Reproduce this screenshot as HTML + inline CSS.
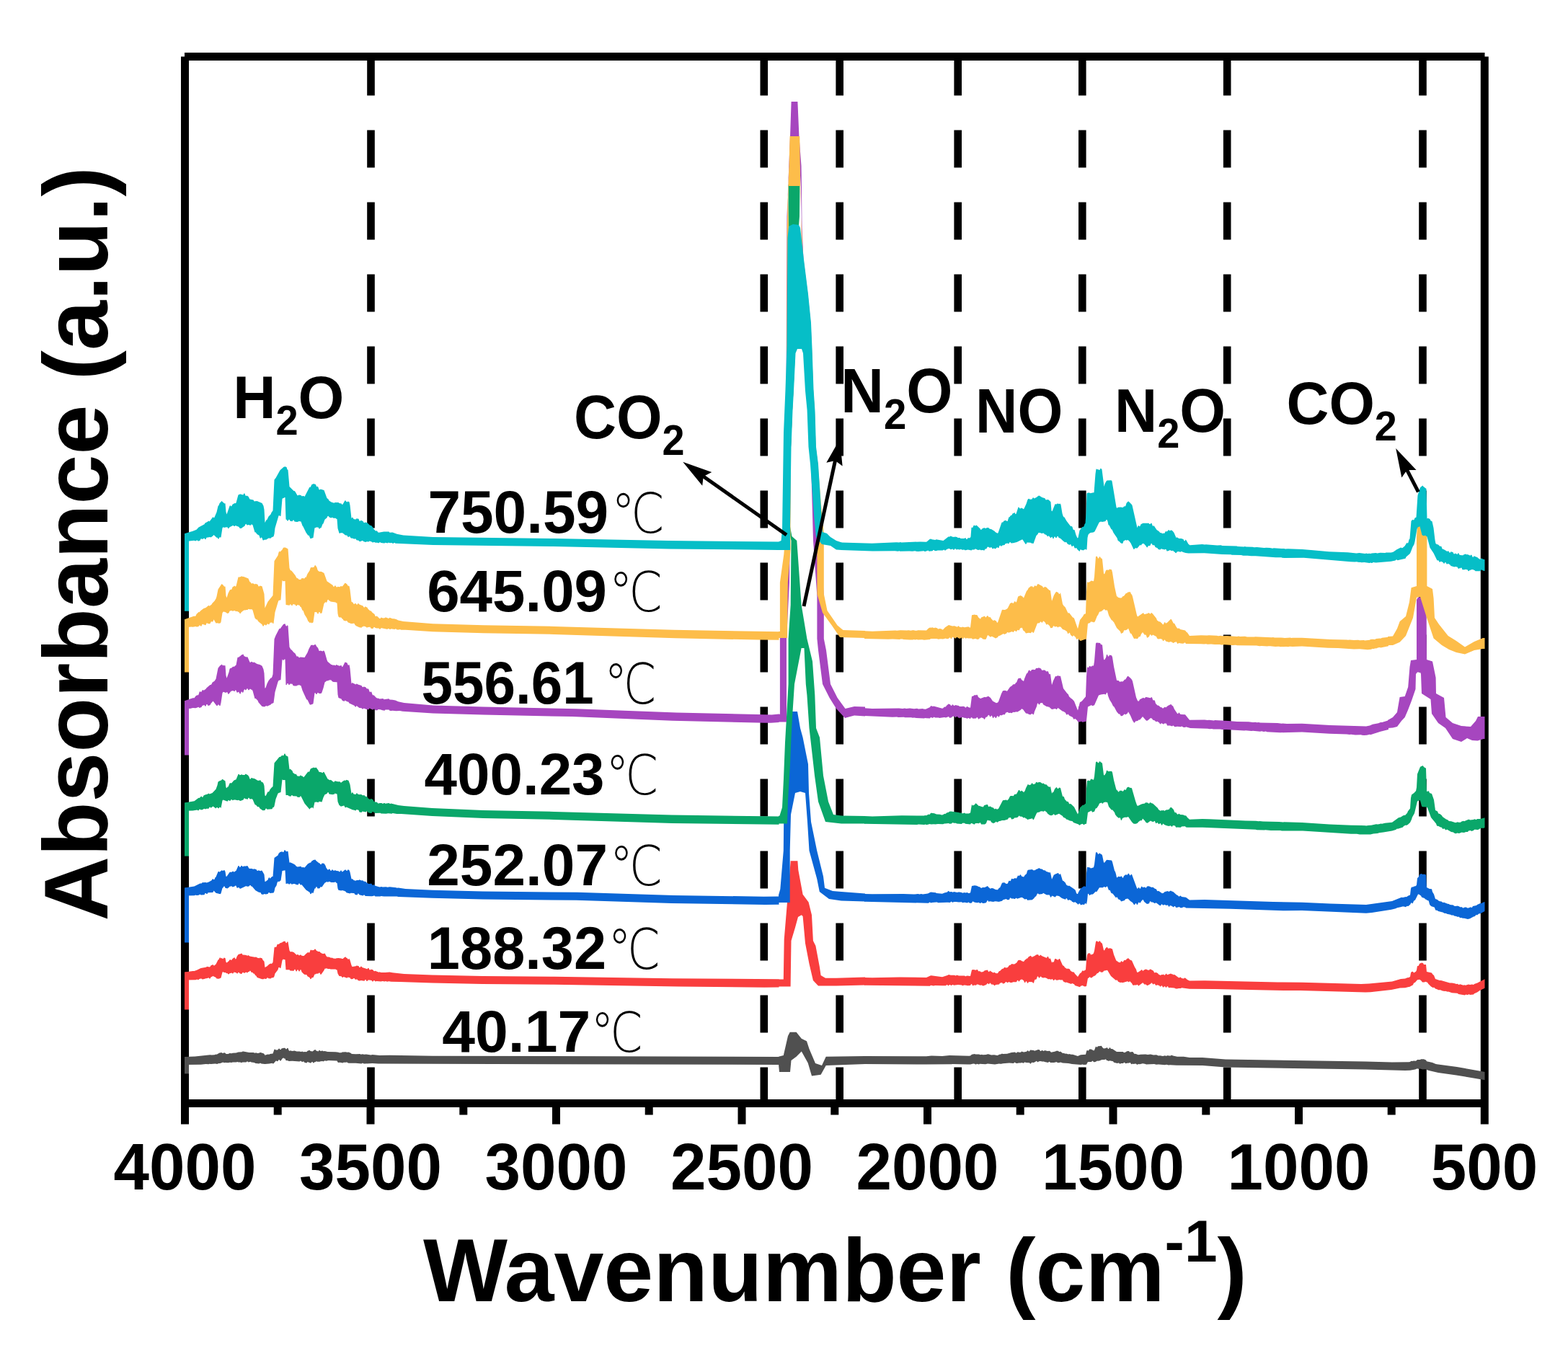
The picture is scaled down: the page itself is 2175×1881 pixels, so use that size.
<!DOCTYPE html>
<html><head><meta charset="utf-8"><title>FTIR spectra</title><style>html,body{margin:0;padding:0;background:#fff;overflow:hidden}svg{display:block}</style></head><body>
<svg width="2175" height="1881" viewBox="0 0 2175 1881">
<rect width="100%" height="100%" fill="#fff"/>
<defs><clipPath id="pa"><rect x="256" y="78.5" width="1803.5" height="1452"/></clipPath></defs>
<line x1="514.5" y1="80.5" x2="514.5" y2="1530" stroke="#000" stroke-width="10.6" stroke-dasharray="52 48"/>
<line x1="1059.8" y1="80.5" x2="1059.8" y2="1530" stroke="#000" stroke-width="10.6" stroke-dasharray="52 48"/>
<line x1="1164.7" y1="80.5" x2="1164.7" y2="1530" stroke="#000" stroke-width="10.6" stroke-dasharray="52 48"/>
<line x1="1328.7" y1="80.5" x2="1328.7" y2="1530" stroke="#000" stroke-width="10.6" stroke-dasharray="52 48"/>
<line x1="1501.3" y1="80.5" x2="1501.3" y2="1530" stroke="#000" stroke-width="10.6" stroke-dasharray="52 48"/>
<line x1="1702.2" y1="80.5" x2="1702.2" y2="1530" stroke="#000" stroke-width="10.6" stroke-dasharray="52 48"/>
<line x1="1973.5" y1="80.5" x2="1973.5" y2="1530" stroke="#000" stroke-width="10.6" stroke-dasharray="52 48"/>
<line x1="256" y1="78.5" x2="2059.5" y2="78.5" stroke="#000" stroke-width="11"/>
<line x1="256.5" y1="78.5" x2="256.5" y2="1559.5" stroke="#000" stroke-width="11"/>
<line x1="2059.3" y1="78.5" x2="2059.3" y2="1559.5" stroke="#000" stroke-width="11"/>
<line x1="256" y1="1530.5" x2="2059.5" y2="1530.5" stroke="#000" stroke-width="11"/>
<line x1="514.0" y1="1530" x2="514.0" y2="1559.5" stroke="#000" stroke-width="11"/>
<line x1="771.5" y1="1530" x2="771.5" y2="1559.5" stroke="#000" stroke-width="11"/>
<line x1="1029.0" y1="1530" x2="1029.0" y2="1559.5" stroke="#000" stroke-width="11"/>
<line x1="1286.5" y1="1530" x2="1286.5" y2="1559.5" stroke="#000" stroke-width="11"/>
<line x1="1544.0" y1="1530" x2="1544.0" y2="1559.5" stroke="#000" stroke-width="11"/>
<line x1="1801.5" y1="1530" x2="1801.5" y2="1559.5" stroke="#000" stroke-width="11"/>
<line x1="385.2" y1="1530" x2="385.2" y2="1546.5" stroke="#000" stroke-width="11"/>
<line x1="642.8" y1="1530" x2="642.8" y2="1546.5" stroke="#000" stroke-width="11"/>
<line x1="900.2" y1="1530" x2="900.2" y2="1546.5" stroke="#000" stroke-width="11"/>
<line x1="1157.8" y1="1530" x2="1157.8" y2="1546.5" stroke="#000" stroke-width="11"/>
<line x1="1415.2" y1="1530" x2="1415.2" y2="1546.5" stroke="#000" stroke-width="11"/>
<line x1="1672.8" y1="1530" x2="1672.8" y2="1546.5" stroke="#000" stroke-width="11"/>
<line x1="1930.2" y1="1530" x2="1930.2" y2="1546.5" stroke="#000" stroke-width="11"/>
<g clip-path="url(#pa)">
<polygon points="256.5,1466.0 270.5,1465.5 291.5,1463.3 293.5,1463.6 297.5,1463.2 299.5,1462.4 300.5,1462.7 304.5,1460.6 307.5,1460.0 308.5,1460.9 311.5,1460.3 312.5,1460.7 313.5,1462.0 316.5,1461.9 318.5,1461.1 321.5,1461.2 322.5,1460.7 327.5,1460.5 330.5,1459.5 335.5,1459.2 336.5,1458.5 337.5,1458.4 345.5,1459.9 351.5,1459.9 353.5,1460.7 355.5,1460.3 356.5,1461.0 359.5,1460.7 360.5,1459.9 361.5,1460.0 365.5,1461.2 366.5,1461.9 367.5,1463.7 371.5,1462.6 373.5,1462.8 374.5,1462.1 378.5,1461.6 380.5,1455.7 381.5,1455.5 382.5,1456.6 384.5,1456.4 385.5,1456.2 386.5,1454.7 387.5,1454.5 388.5,1456.0 389.5,1455.9 390.5,1454.4 393.5,1453.7 395.5,1453.7 396.5,1455.2 397.5,1455.2 398.5,1453.8 399.5,1453.9 400.5,1456.7 401.5,1458.0 402.5,1457.3 405.5,1458.1 408.5,1457.6 411.5,1458.6 415.5,1458.4 417.5,1458.9 419.5,1458.5 420.5,1459.2 423.5,1458.9 424.5,1459.3 425.5,1459.1 426.5,1457.8 429.5,1456.8 430.5,1458.1 433.5,1458.5 436.5,1456.2 437.5,1456.1 438.5,1457.4 441.5,1458.4 442.5,1457.1 443.5,1457.1 444.5,1458.1 447.5,1457.5 448.5,1458.3 450.5,1458.1 454.5,1459.1 465.5,1459.3 469.5,1459.7 470.5,1460.3 473.5,1460.3 474.5,1459.4 479.5,1459.3 481.5,1459.8 483.5,1459.4 486.5,1460.7 487.5,1461.7 488.5,1461.9 493.5,1462.3 499.5,1462.0 500.5,1462.7 502.5,1462.3 505.5,1462.8 507.5,1462.5 514.5,1463.4 516.5,1463.1 526.5,1464.1 540.5,1463.8 600.5,1464.7 1080.5,1465.9 1080.5,1477.0 524.5,1475.5 516.5,1475.1 506.5,1475.5 504.5,1475.4 503.5,1474.8 502.5,1474.8 501.5,1475.4 493.5,1474.7 484.5,1474.7 482.5,1474.5 481.5,1473.5 480.5,1473.4 479.5,1473.8 476.5,1473.7 475.5,1474.4 471.5,1473.8 469.5,1474.0 468.5,1473.5 467.5,1471.5 455.5,1471.0 452.5,1471.7 450.5,1471.2 448.5,1472.6 447.5,1471.9 444.5,1472.2 443.5,1472.8 440.5,1472.8 438.5,1472.2 437.5,1473.2 436.5,1473.2 434.5,1474.7 433.5,1473.0 432.5,1473.1 431.5,1474.4 430.5,1474.4 426.5,1473.0 425.5,1474.5 422.5,1473.9 421.5,1472.6 420.5,1472.4 419.5,1473.0 418.5,1472.7 417.5,1471.7 416.5,1471.7 415.5,1472.6 405.5,1471.8 400.5,1472.0 399.5,1471.2 396.5,1470.9 395.5,1468.4 394.5,1468.4 393.5,1467.6 392.5,1467.7 391.5,1468.4 389.5,1471.4 388.5,1471.4 387.5,1470.1 386.5,1470.2 385.5,1471.9 384.5,1472.3 383.5,1471.4 382.5,1471.8 379.5,1475.2 378.5,1475.4 377.5,1474.8 373.5,1475.6 367.5,1475.9 362.5,1475.6 361.5,1474.8 360.5,1474.7 359.5,1475.5 354.5,1475.0 352.5,1474.0 348.5,1473.6 347.5,1472.8 344.5,1473.6 343.5,1472.6 342.5,1472.6 341.5,1473.6 336.5,1473.5 334.5,1474.2 333.5,1473.4 330.5,1473.5 329.5,1473.0 327.5,1473.6 322.5,1473.6 321.5,1474.1 318.5,1473.7 316.5,1474.3 312.5,1473.9 310.5,1474.2 309.5,1473.6 305.5,1475.1 302.5,1475.3 301.5,1476.0 298.5,1475.4 292.5,1476.1 290.5,1475.8 289.5,1476.3 285.5,1476.1 278.5,1476.7 256.5,1477.0" fill="#505050"/>
<polygon points="1199.0,1465.1 1285.0,1465.2 1292.0,1464.5 1307.0,1465.0 1317.0,1464.1 1344.0,1464.8 1346.0,1464.6 1348.0,1462.8 1352.0,1461.9 1353.0,1462.4 1358.0,1462.5 1360.0,1463.2 1362.0,1462.7 1363.0,1463.2 1368.0,1463.1 1369.0,1462.4 1371.0,1462.3 1375.0,1463.4 1379.0,1463.2 1383.0,1464.0 1384.0,1463.9 1386.0,1462.7 1388.0,1462.5 1390.0,1461.4 1391.0,1462.0 1397.0,1461.7 1403.0,1460.1 1408.0,1459.6 1409.0,1460.6 1410.0,1460.6 1412.0,1459.0 1413.0,1459.7 1416.0,1459.8 1417.0,1458.6 1420.0,1459.4 1424.0,1458.7 1425.0,1457.6 1426.0,1457.3 1427.0,1458.4 1428.0,1458.3 1429.0,1456.6 1434.0,1457.1 1435.0,1457.8 1440.0,1456.0 1442.0,1456.2 1443.0,1458.0 1444.0,1458.0 1445.0,1456.9 1446.0,1457.0 1447.0,1457.8 1448.0,1457.9 1449.0,1456.9 1453.0,1458.0 1456.0,1457.8 1458.0,1459.7 1464.0,1458.4 1465.0,1457.7 1468.0,1457.8 1469.0,1459.1 1470.0,1459.1 1471.0,1458.5 1474.0,1461.0 1475.0,1460.8 1478.0,1461.7 1479.0,1461.5 1482.0,1462.5 1483.0,1462.0 1486.0,1462.8 1488.0,1462.8 1495.0,1465.1 1499.0,1463.2 1506.0,1462.8 1507.0,1458.5 1508.0,1456.5 1509.0,1457.6 1510.0,1457.6 1511.0,1455.6 1514.0,1455.5 1515.0,1456.5 1516.0,1456.5 1517.0,1457.4 1518.0,1456.7 1520.0,1451.4 1521.0,1452.4 1522.0,1452.4 1523.0,1451.3 1528.0,1450.7 1529.0,1452.8 1531.0,1454.5 1534.0,1454.1 1535.0,1453.2 1536.0,1453.2 1537.0,1455.0 1538.0,1455.1 1539.0,1453.3 1540.0,1453.3 1541.0,1454.9 1543.0,1455.1 1549.0,1459.0 1558.0,1459.1 1559.0,1460.3 1562.0,1459.3 1563.0,1458.3 1566.0,1458.1 1567.0,1459.5 1571.0,1459.1 1572.0,1459.7 1573.0,1461.5 1574.0,1462.0 1575.0,1461.7 1579.0,1463.2 1582.0,1462.7 1589.0,1462.5 1592.0,1463.1 1596.0,1462.4 1600.0,1463.4 1604.0,1463.3 1607.0,1464.4 1609.0,1464.2 1613.0,1464.9 1616.0,1464.2 1617.0,1464.8 1618.0,1464.7 1620.0,1463.9 1621.0,1464.5 1624.0,1464.4 1625.0,1463.5 1627.0,1464.5 1633.0,1465.7 1642.0,1465.7 1650.0,1467.0 1668.0,1466.9 1700.0,1469.4 1894.0,1472.5 1931.0,1473.6 1954.0,1473.3 1956.0,1473.1 1957.0,1472.0 1958.0,1471.7 1959.0,1472.1 1961.0,1471.6 1964.0,1471.7 1966.0,1470.1 1970.0,1469.9 1971.0,1469.3 1975.0,1469.3 1978.0,1470.4 1979.0,1472.3 1987.0,1473.9 1991.0,1475.8 1993.0,1476.2 2021.0,1480.0 2062.0,1487.4 2062.0,1498.7 2020.0,1491.4 1995.0,1488.1 1982.0,1485.1 1979.0,1484.1 1978.0,1483.3 1973.0,1483.5 1970.0,1482.6 1967.0,1482.8 1966.0,1482.3 1963.0,1483.5 1956.0,1484.7 1949.0,1484.9 1894.0,1483.6 1700.0,1480.6 1668.0,1478.1 1632.0,1477.8 1623.0,1477.3 1621.0,1477.6 1618.0,1476.8 1616.0,1477.3 1607.0,1476.6 1604.0,1476.8 1601.0,1476.0 1590.0,1476.5 1588.0,1475.7 1585.0,1475.3 1581.0,1476.2 1579.0,1476.0 1578.0,1476.8 1577.0,1476.8 1576.0,1475.8 1575.0,1475.6 1572.0,1475.9 1571.0,1475.6 1570.0,1476.3 1569.0,1476.1 1568.0,1474.3 1567.0,1474.1 1566.0,1474.7 1565.0,1474.4 1561.0,1475.2 1560.0,1473.8 1559.0,1473.9 1558.0,1474.9 1555.0,1475.1 1554.0,1475.7 1553.0,1475.5 1552.0,1474.6 1551.0,1474.4 1550.0,1474.9 1545.0,1473.7 1544.0,1472.3 1543.0,1471.9 1539.0,1471.3 1538.0,1472.0 1536.0,1470.9 1535.0,1470.9 1534.0,1469.3 1532.0,1469.9 1529.0,1469.9 1527.0,1470.4 1526.0,1471.2 1523.0,1471.8 1522.0,1471.5 1520.0,1472.7 1518.0,1473.2 1517.0,1473.3 1516.0,1471.7 1515.0,1471.7 1514.0,1472.9 1509.0,1473.1 1507.0,1476.8 1503.0,1477.0 1502.0,1476.6 1499.0,1477.1 1487.0,1476.1 1482.0,1475.0 1474.0,1474.5 1471.0,1473.6 1470.0,1474.1 1467.0,1474.3 1466.0,1473.3 1465.0,1473.3 1462.0,1474.0 1458.0,1474.1 1457.0,1474.0 1456.0,1472.9 1455.0,1472.7 1454.0,1474.0 1449.0,1473.1 1448.0,1472.6 1445.0,1472.5 1444.0,1472.1 1441.0,1472.3 1440.0,1473.2 1439.0,1473.2 1438.0,1471.8 1434.0,1474.0 1431.0,1473.8 1430.0,1475.4 1429.0,1475.4 1428.0,1474.3 1423.0,1474.1 1422.0,1473.6 1421.0,1473.6 1420.0,1474.7 1417.0,1473.9 1416.0,1474.6 1413.0,1474.5 1411.0,1475.0 1409.0,1474.8 1408.0,1473.8 1407.0,1473.8 1406.0,1475.1 1400.0,1474.5 1391.0,1475.2 1389.0,1475.7 1387.0,1475.8 1386.0,1475.4 1380.0,1476.4 1370.0,1475.5 1367.0,1476.3 1359.0,1475.8 1358.0,1476.5 1355.0,1475.8 1354.0,1476.5 1353.0,1476.5 1352.0,1475.7 1350.0,1475.6 1346.0,1476.4 1342.0,1476.4 1321.0,1476.0 1320.0,1476.3 1284.0,1476.5 1199.0,1476.1" fill="#505050"/>
<polygon points="1080.0,1465.7 1086.8,1464.0 1093.0,1437.0 1095.7,1431.8 1104.6,1431.8 1111.8,1440.7 1119.0,1444.3 1122.5,1455.0 1131.0,1475.0 1140.0,1478.0 1145.7,1465.7 1200.0,1465.0 1200.0,1476.0 1145.7,1478.0 1138.6,1490.7 1126.0,1492.5 1120.7,1474.6 1111.8,1458.6 1104.6,1465.7 1097.5,1471.0 1096.0,1487.0 1081.0,1487.0 1080.0,1476.4" fill="#505050"/>
<rect x="251" y="1466.0" width="11" height="23.4" fill="#505050"/>
<polygon points="256.5,1348.5 267.5,1346.9 269.5,1347.0 273.5,1345.6 278.5,1342.9 285.5,1341.7 287.5,1340.8 290.5,1341.4 291.5,1341.0 292.5,1339.2 295.5,1338.0 296.5,1339.4 297.5,1339.3 299.5,1337.5 302.5,1331.6 303.5,1331.1 304.5,1328.8 305.5,1328.3 306.5,1329.6 307.5,1329.0 309.5,1330.3 310.5,1328.4 312.5,1328.9 313.5,1334.5 314.5,1335.5 317.5,1333.0 318.5,1331.5 319.5,1331.0 320.5,1331.9 321.5,1331.5 322.5,1329.9 324.5,1328.6 325.5,1328.3 326.5,1330.5 327.5,1330.1 328.5,1326.9 330.5,1324.1 335.5,1322.6 336.5,1324.5 340.5,1324.8 343.5,1325.8 344.5,1324.9 346.5,1326.6 353.5,1327.7 355.5,1327.5 356.5,1328.4 359.5,1329.3 360.5,1328.6 363.5,1329.3 364.5,1331.4 366.5,1333.7 367.5,1342.1 370.5,1340.3 373.5,1337.5 375.5,1336.6 376.5,1337.0 377.5,1336.3 378.5,1334.9 380.5,1314.4 381.5,1313.6 382.5,1314.1 383.5,1313.3 384.5,1310.3 385.5,1309.5 386.5,1310.1 388.5,1308.3 391.5,1307.3 392.5,1306.3 395.5,1305.6 396.5,1307.8 397.5,1308.2 398.5,1306.3 399.5,1306.6 401.5,1318.6 402.5,1320.1 403.5,1320.6 404.5,1320.1 407.5,1321.1 411.5,1324.8 412.5,1324.0 413.5,1324.1 414.5,1325.3 415.5,1325.3 416.5,1324.4 417.5,1324.5 418.5,1325.8 421.5,1325.9 424.5,1322.9 427.5,1320.8 428.5,1321.8 429.5,1321.0 430.5,1318.0 431.5,1317.4 432.5,1318.2 434.5,1318.1 435.5,1317.9 436.5,1316.6 437.5,1316.4 438.5,1318.2 439.5,1318.9 441.5,1320.0 443.5,1320.0 444.5,1321.6 445.5,1321.7 446.5,1322.8 449.5,1323.1 450.5,1322.2 452.5,1325.9 453.5,1327.2 454.5,1327.6 456.5,1327.5 458.5,1328.6 459.5,1328.8 460.5,1328.4 462.5,1329.5 465.5,1329.8 466.5,1329.2 469.5,1329.1 473.5,1329.4 474.5,1330.1 475.5,1329.9 478.5,1327.5 479.5,1327.6 480.5,1328.7 481.5,1329.0 482.5,1330.4 483.5,1330.7 484.5,1329.8 485.5,1331.9 487.5,1339.1 488.5,1341.0 493.5,1340.3 494.5,1339.5 497.5,1340.0 498.5,1341.9 499.5,1342.1 500.5,1340.6 501.5,1340.8 502.5,1341.9 509.5,1344.3 510.5,1342.7 511.5,1343.1 512.5,1345.2 513.5,1345.5 514.5,1344.8 516.5,1345.0 517.5,1345.4 518.5,1346.9 519.5,1347.2 520.5,1346.7 525.5,1348.8 526.5,1348.3 528.5,1348.9 534.5,1349.0 540.5,1348.4 544.5,1349.3 560.5,1350.9 599.5,1352.5 669.5,1353.9 768.5,1354.8 932.5,1357.2 1080.5,1358.3 1080.5,1369.5 1060.5,1369.7 940.5,1368.5 768.5,1365.8 669.5,1364.9 599.5,1363.5 554.5,1361.9 542.5,1361.8 539.5,1361.3 536.5,1361.7 535.5,1361.1 533.5,1361.6 530.5,1361.0 528.5,1361.6 522.5,1360.9 520.5,1361.4 519.5,1360.2 518.5,1360.1 517.5,1361.4 516.5,1361.4 515.5,1360.1 512.5,1359.5 510.5,1359.6 509.5,1361.1 508.5,1361.0 507.5,1359.0 506.5,1358.9 505.5,1360.8 500.5,1360.0 499.5,1360.5 498.5,1360.4 496.5,1359.9 495.5,1358.6 492.5,1358.8 491.5,1357.1 490.5,1357.0 489.5,1358.1 487.5,1358.3 486.5,1358.1 485.5,1356.2 483.5,1355.7 482.5,1355.5 481.5,1356.8 476.5,1355.0 475.5,1355.9 474.5,1355.7 473.5,1354.2 470.5,1353.9 468.5,1350.4 467.5,1345.4 466.5,1345.3 465.5,1344.5 458.5,1344.6 457.5,1343.9 454.5,1343.9 453.5,1343.2 450.5,1343.7 449.5,1346.1 445.5,1351.7 444.5,1351.7 443.5,1349.5 442.5,1349.5 441.5,1350.6 438.5,1350.8 437.5,1351.4 436.5,1351.4 434.5,1355.9 432.5,1356.2 431.5,1358.1 430.5,1358.2 429.5,1356.0 426.5,1354.3 425.5,1352.6 424.5,1351.8 423.5,1352.2 421.5,1351.2 419.5,1349.3 418.5,1348.2 417.5,1345.3 416.5,1345.3 415.5,1347.4 414.5,1347.3 413.5,1345.2 412.5,1345.2 411.5,1347.4 410.5,1347.3 409.5,1344.7 408.5,1344.7 407.5,1346.8 402.5,1346.4 401.5,1345.3 396.5,1345.2 395.5,1331.2 393.5,1330.7 392.5,1330.7 391.5,1332.2 389.5,1342.8 388.5,1343.0 387.5,1341.7 386.5,1341.9 385.5,1345.3 381.5,1350.4 380.5,1354.3 379.5,1356.1 376.5,1356.6 375.5,1357.6 372.5,1357.2 371.5,1356.2 370.5,1356.4 369.5,1357.7 368.5,1358.0 366.5,1357.5 365.5,1358.3 363.5,1358.3 357.5,1356.2 356.5,1355.8 355.5,1353.7 354.5,1353.3 352.5,1350.5 351.5,1350.5 350.5,1349.1 348.5,1348.7 347.5,1346.8 346.5,1346.8 345.5,1347.9 344.5,1347.9 343.5,1349.3 342.5,1349.3 341.5,1348.4 338.5,1350.0 337.5,1348.7 336.5,1349.0 335.5,1350.7 334.5,1351.1 332.5,1350.3 331.5,1349.0 330.5,1348.8 329.5,1350.4 328.5,1350.2 327.5,1349.2 324.5,1348.5 323.5,1350.2 322.5,1350.4 321.5,1349.4 318.5,1350.2 317.5,1351.2 316.5,1351.4 315.5,1350.1 314.5,1350.2 312.5,1348.9 310.5,1349.1 309.5,1348.0 308.5,1348.7 306.5,1356.6 303.5,1357.8 300.5,1357.4 299.5,1355.9 295.5,1354.1 292.5,1355.5 291.5,1357.5 290.5,1357.6 289.5,1356.2 287.5,1357.0 284.5,1357.4 283.5,1358.1 280.5,1358.4 279.5,1357.4 278.5,1357.5 276.5,1358.1 275.5,1359.1 274.5,1359.2 273.5,1358.6 271.5,1359.2 256.5,1359.6" fill="#F93E3E"/>
<polygon points="1199.0,1355.9 1210.0,1356.2 1248.0,1355.5 1285.0,1355.9 1291.0,1353.3 1292.0,1353.3 1307.0,1355.3 1314.0,1353.0 1316.0,1352.0 1319.0,1352.8 1324.0,1352.7 1325.0,1353.3 1326.0,1353.4 1327.0,1352.6 1330.0,1353.4 1338.0,1353.5 1339.0,1354.2 1340.0,1354.2 1341.0,1353.4 1346.0,1354.0 1348.0,1345.6 1350.0,1344.9 1354.0,1345.7 1355.0,1344.7 1356.0,1345.2 1357.0,1346.9 1358.0,1347.4 1359.0,1346.9 1361.0,1348.5 1364.0,1347.9 1365.0,1346.8 1367.0,1345.9 1370.0,1345.6 1371.0,1347.8 1372.0,1348.2 1373.0,1346.4 1377.0,1349.0 1378.0,1349.4 1379.0,1348.7 1380.0,1349.0 1381.0,1350.1 1383.0,1350.3 1384.0,1350.1 1386.0,1346.9 1387.0,1347.0 1390.0,1343.9 1392.0,1343.6 1393.0,1341.9 1394.0,1341.8 1395.0,1342.5 1397.0,1342.3 1398.0,1341.8 1400.0,1339.0 1402.0,1338.4 1403.0,1337.3 1404.0,1337.0 1405.0,1337.6 1408.0,1337.2 1409.0,1335.9 1410.0,1335.7 1412.0,1332.4 1413.0,1331.7 1416.0,1332.1 1417.0,1333.0 1420.0,1333.9 1422.0,1331.2 1423.0,1330.9 1424.0,1329.6 1425.0,1329.7 1427.0,1326.9 1428.0,1326.8 1429.0,1325.9 1430.0,1325.8 1431.0,1327.5 1432.0,1327.5 1436.0,1325.6 1437.0,1324.5 1440.0,1324.1 1441.0,1325.7 1442.0,1325.9 1443.0,1324.6 1444.0,1324.9 1445.0,1326.1 1451.0,1328.5 1452.0,1328.7 1453.0,1326.7 1454.0,1327.0 1455.0,1329.6 1456.0,1330.1 1457.0,1329.3 1459.0,1335.4 1460.0,1334.1 1461.0,1335.0 1462.0,1333.8 1463.0,1330.6 1464.0,1329.7 1467.0,1331.5 1468.0,1331.6 1469.0,1329.9 1470.0,1330.0 1474.0,1339.0 1476.0,1340.2 1477.0,1341.9 1480.0,1344.1 1481.0,1343.5 1483.0,1344.0 1484.0,1344.6 1485.0,1346.7 1488.0,1348.6 1489.0,1348.3 1490.0,1348.9 1491.0,1350.7 1495.0,1354.9 1498.0,1350.3 1500.0,1348.9 1501.0,1346.8 1502.0,1346.2 1503.0,1347.1 1506.0,1345.2 1507.0,1332.0 1508.0,1324.9 1509.0,1322.5 1512.0,1322.3 1513.0,1324.4 1516.0,1323.6 1517.0,1322.2 1518.0,1318.8 1520.0,1306.5 1521.0,1305.3 1522.0,1305.4 1523.0,1306.6 1524.0,1306.6 1525.0,1305.3 1526.0,1305.4 1527.0,1307.6 1528.0,1307.7 1529.0,1309.3 1531.0,1318.0 1532.0,1318.4 1533.0,1315.9 1535.0,1313.9 1536.0,1313.9 1537.0,1315.8 1540.0,1315.2 1543.0,1316.4 1545.0,1324.2 1548.0,1331.7 1549.0,1333.2 1550.0,1333.3 1551.0,1334.5 1554.0,1335.3 1555.0,1333.2 1556.0,1333.3 1557.0,1334.4 1558.0,1334.1 1559.0,1332.3 1560.0,1331.7 1561.0,1332.1 1562.0,1331.5 1563.0,1330.0 1565.0,1329.3 1566.0,1329.7 1567.0,1331.2 1570.0,1332.4 1574.0,1341.4 1576.0,1344.8 1577.0,1348.2 1578.0,1349.1 1582.0,1346.6 1583.0,1345.4 1584.0,1345.1 1585.0,1346.8 1586.0,1346.5 1587.0,1345.3 1588.0,1345.3 1589.0,1344.4 1590.0,1344.4 1591.0,1345.3 1593.0,1345.7 1594.0,1345.7 1595.0,1344.4 1596.0,1344.5 1600.0,1346.8 1601.0,1349.0 1602.0,1349.6 1603.0,1348.7 1606.0,1350.1 1607.0,1351.6 1610.0,1353.1 1611.0,1351.8 1612.0,1352.2 1614.0,1351.6 1615.0,1352.8 1616.0,1352.6 1617.0,1350.9 1618.0,1350.6 1619.0,1352.3 1624.0,1350.4 1626.0,1351.5 1627.0,1351.6 1628.0,1352.4 1629.0,1351.8 1635.0,1356.2 1636.0,1356.3 1637.0,1355.5 1638.0,1355.7 1639.0,1357.1 1642.0,1357.6 1643.0,1356.4 1644.0,1356.6 1647.0,1359.0 1650.0,1360.6 1671.0,1360.2 1772.0,1362.4 1806.0,1362.7 1888.0,1364.9 1899.0,1364.5 1931.0,1361.6 1943.0,1358.1 1949.0,1357.6 1952.0,1356.3 1954.0,1356.1 1956.0,1355.1 1957.0,1349.6 1958.0,1348.1 1960.0,1347.8 1961.0,1349.5 1964.0,1347.7 1965.0,1345.7 1966.0,1339.8 1967.0,1340.2 1968.0,1339.3 1969.0,1336.7 1972.0,1335.5 1974.0,1336.0 1975.0,1337.9 1978.0,1337.9 1979.0,1347.9 1986.0,1349.5 1987.0,1351.3 1989.0,1353.1 1991.0,1358.0 1997.0,1359.9 1999.0,1359.9 2011.0,1363.6 2014.0,1363.5 2018.0,1364.2 2020.0,1365.0 2022.0,1364.8 2023.0,1365.7 2024.0,1365.9 2025.0,1365.3 2026.0,1365.5 2030.0,1366.7 2031.0,1366.3 2033.0,1366.7 2037.0,1365.5 2039.0,1366.1 2042.0,1365.6 2044.0,1365.9 2045.0,1364.9 2050.0,1363.3 2051.0,1362.4 2060.0,1358.0 2062.0,1356.5 2062.0,1369.0 2059.0,1371.0 2053.0,1373.7 2049.0,1376.4 2045.0,1378.2 2044.0,1379.4 2039.0,1380.1 2038.0,1379.3 2037.0,1379.4 2035.0,1380.2 2034.0,1379.6 2033.0,1379.8 2032.0,1380.6 2023.0,1379.1 2022.0,1378.0 2021.0,1377.8 2014.0,1377.2 2009.0,1375.5 2008.0,1375.7 2005.0,1374.7 2004.0,1375.0 2001.0,1374.5 1998.0,1373.3 1995.0,1373.3 1994.0,1372.4 1991.0,1371.6 1989.0,1369.5 1988.0,1370.2 1985.0,1368.6 1981.0,1364.5 1980.0,1362.7 1977.0,1361.8 1976.0,1362.4 1973.0,1362.5 1971.0,1359.9 1969.0,1358.7 1966.0,1359.3 1963.0,1362.8 1961.0,1363.7 1960.0,1366.3 1955.0,1369.1 1954.0,1368.9 1949.0,1370.2 1942.0,1370.6 1930.0,1373.0 1901.0,1376.2 1894.0,1376.4 1804.0,1373.9 1780.0,1374.1 1685.0,1372.0 1650.0,1371.7 1639.0,1370.3 1638.0,1371.1 1635.0,1371.0 1633.0,1371.6 1631.0,1371.4 1629.0,1370.4 1623.0,1370.0 1621.0,1370.3 1620.0,1368.3 1619.0,1368.2 1618.0,1369.8 1617.0,1369.7 1616.0,1368.3 1615.0,1368.3 1614.0,1369.5 1613.0,1369.4 1612.0,1367.5 1611.0,1367.3 1610.0,1368.5 1609.0,1368.4 1608.0,1367.0 1605.0,1366.2 1604.0,1367.1 1603.0,1366.7 1602.0,1364.9 1601.0,1364.5 1600.0,1365.6 1599.0,1365.3 1598.0,1363.6 1597.0,1363.6 1596.0,1364.7 1592.0,1366.9 1591.0,1367.0 1589.0,1365.3 1588.0,1365.7 1587.0,1365.2 1586.0,1363.8 1585.0,1363.2 1579.0,1367.8 1578.0,1365.7 1576.0,1366.5 1573.0,1366.5 1572.0,1367.0 1571.0,1366.1 1570.0,1363.9 1567.0,1361.1 1566.0,1362.4 1564.0,1361.2 1557.0,1363.3 1556.0,1362.8 1554.0,1362.9 1551.0,1361.7 1550.0,1359.9 1549.0,1359.3 1548.0,1360.1 1541.0,1354.0 1536.0,1345.7 1531.0,1346.8 1530.0,1348.4 1527.0,1348.8 1526.0,1347.6 1525.0,1347.7 1523.0,1350.0 1522.0,1350.0 1519.0,1353.4 1517.0,1354.1 1516.0,1355.2 1515.0,1355.4 1514.0,1356.4 1513.0,1356.6 1512.0,1355.3 1511.0,1355.4 1510.0,1356.7 1509.0,1356.9 1507.0,1368.1 1505.0,1368.5 1503.0,1368.1 1502.0,1367.1 1499.0,1367.8 1498.0,1369.2 1491.0,1366.9 1490.0,1365.3 1487.0,1364.1 1486.0,1364.9 1479.0,1362.6 1478.0,1363.0 1477.0,1362.6 1475.0,1361.6 1474.0,1359.6 1473.0,1359.2 1472.0,1359.5 1469.0,1358.9 1468.0,1359.6 1465.0,1359.7 1464.0,1358.6 1463.0,1358.7 1462.0,1360.0 1461.0,1360.0 1460.0,1358.0 1458.0,1358.7 1455.0,1358.1 1454.0,1358.6 1452.0,1357.1 1449.0,1356.0 1448.0,1356.4 1445.0,1356.1 1444.0,1354.6 1443.0,1354.7 1442.0,1356.5 1441.0,1356.5 1440.0,1354.4 1439.0,1354.5 1438.0,1357.6 1437.0,1359.0 1436.0,1358.4 1435.0,1359.8 1434.0,1363.4 1433.0,1363.8 1432.0,1362.3 1428.0,1362.0 1427.0,1362.0 1426.0,1363.7 1425.0,1363.7 1424.0,1361.3 1423.0,1361.2 1422.0,1363.3 1421.0,1362.7 1420.0,1360.3 1418.0,1358.7 1417.0,1358.5 1415.0,1359.4 1414.0,1361.3 1413.0,1361.6 1412.0,1359.8 1411.0,1360.0 1410.0,1362.3 1405.0,1362.2 1404.0,1362.9 1401.0,1363.1 1400.0,1362.1 1397.0,1363.2 1396.0,1361.9 1395.0,1362.0 1394.0,1363.6 1392.0,1364.5 1391.0,1364.6 1390.0,1363.0 1388.0,1363.4 1387.0,1363.7 1386.0,1365.5 1381.0,1366.1 1380.0,1367.2 1379.0,1367.0 1378.0,1365.7 1375.0,1365.4 1374.0,1363.8 1373.0,1363.6 1372.0,1365.3 1371.0,1365.1 1370.0,1363.8 1368.0,1365.9 1364.0,1367.5 1363.0,1367.5 1362.0,1366.6 1359.0,1366.8 1358.0,1365.9 1356.0,1365.4 1355.0,1365.4 1354.0,1366.8 1351.0,1366.4 1350.0,1367.3 1349.0,1367.3 1348.0,1365.1 1347.0,1365.2 1346.0,1367.1 1342.0,1367.3 1340.0,1366.7 1337.0,1366.6 1336.0,1367.2 1335.0,1367.2 1334.0,1366.5 1329.0,1366.1 1323.0,1366.7 1322.0,1365.9 1321.0,1365.9 1320.0,1366.9 1319.0,1366.9 1318.0,1366.0 1317.0,1366.0 1316.0,1367.2 1315.0,1367.2 1314.0,1366.1 1313.0,1366.3 1312.0,1367.2 1307.0,1367.3 1297.0,1367.0 1295.0,1367.6 1291.0,1366.8 1290.0,1367.8 1289.0,1367.8 1199.0,1366.7" fill="#F93E3E"/>
<polygon points="1080.0,1358.6 1086.8,1358.6 1087.7,1303.0 1092.0,1251.4 1096.6,1196.0 1096.6,1194.3 1106.4,1194.3 1107.3,1206.8 1113.6,1240.7 1121.6,1251.4 1126.0,1269.3 1127.9,1305.0 1131.4,1312.0 1136.8,1340.7 1138.6,1353.0 1145.0,1356.8 1160.0,1356.8 1200.0,1355.5 1200.0,1366.5 1160.0,1367.5 1135.0,1367.5 1127.9,1360.0 1122.5,1337.0 1117.0,1308.6 1113.6,1271.0 1111.8,1269.3 1107.0,1272.0 1102.9,1287.0 1097.5,1305.0 1096.6,1368.4 1080.0,1368.4" fill="#F93E3E"/>
<rect x="251" y="1348.5" width="11" height="52.0" fill="#F93E3E"/>
<polygon points="256.5,1231.5 269.5,1229.6 277.5,1225.5 279.5,1225.5 280.5,1224.2 285.5,1224.0 286.5,1224.4 289.5,1223.6 293.5,1221.2 294.5,1219.6 295.5,1219.2 296.5,1220.3 297.5,1219.8 298.5,1217.2 299.5,1216.5 302.5,1209.3 303.5,1208.7 304.5,1209.7 307.5,1207.3 309.5,1207.9 310.5,1207.0 311.5,1207.3 312.5,1209.3 313.5,1215.7 314.5,1215.8 318.5,1210.1 319.5,1209.5 320.5,1210.0 323.5,1208.5 324.5,1209.8 327.5,1207.7 330.5,1201.0 331.5,1200.9 332.5,1202.9 333.5,1202.8 334.5,1200.9 335.5,1200.8 336.5,1202.3 338.5,1201.5 341.5,1201.6 342.5,1201.1 343.5,1201.3 345.5,1204.8 347.5,1205.1 348.5,1204.8 351.5,1205.8 352.5,1205.3 355.5,1205.9 356.5,1207.7 357.5,1207.9 358.5,1207.3 361.5,1208.3 362.5,1207.6 363.5,1207.8 366.5,1212.9 367.5,1223.0 368.5,1222.8 371.5,1220.4 372.5,1217.9 373.5,1217.1 374.5,1218.7 377.5,1215.7 378.5,1216.0 380.5,1190.1 385.5,1186.4 386.5,1184.0 388.5,1182.0 391.5,1181.2 392.5,1182.3 393.5,1181.8 394.5,1179.3 395.5,1179.3 396.5,1180.8 397.5,1181.3 398.5,1180.7 399.5,1181.1 401.5,1196.7 402.5,1196.2 406.5,1198.1 409.5,1199.8 410.5,1201.2 412.5,1202.5 417.5,1201.8 418.5,1203.3 420.5,1202.9 422.5,1203.4 427.5,1197.7 428.5,1197.8 429.5,1196.8 430.5,1196.8 431.5,1196.0 432.5,1194.2 433.5,1194.0 434.5,1193.0 437.5,1192.4 438.5,1193.9 442.5,1197.2 443.5,1197.4 444.5,1199.1 445.5,1199.3 446.5,1197.5 449.5,1197.7 451.5,1200.8 452.5,1203.7 454.5,1206.4 455.5,1206.6 456.5,1205.4 457.5,1205.7 458.5,1207.8 459.5,1208.0 460.5,1206.3 461.5,1206.6 462.5,1207.7 465.5,1207.2 466.5,1208.0 469.5,1208.2 470.5,1209.2 471.5,1209.3 472.5,1207.5 473.5,1207.6 474.5,1209.4 475.5,1209.1 478.5,1206.6 479.5,1206.6 480.5,1207.8 481.5,1208.1 482.5,1206.3 483.5,1206.5 484.5,1207.3 485.5,1209.8 487.5,1219.2 489.5,1219.5 490.5,1220.9 493.5,1221.8 494.5,1220.9 497.5,1220.9 498.5,1220.2 501.5,1221.6 502.5,1221.2 503.5,1221.4 504.5,1222.6 507.5,1223.1 508.5,1224.6 511.5,1225.9 513.5,1226.1 514.5,1225.6 515.5,1226.1 516.5,1227.6 517.5,1228.0 518.5,1226.9 519.5,1227.4 520.5,1228.7 526.5,1230.4 529.5,1230.0 530.5,1230.5 535.5,1230.2 537.5,1230.7 540.5,1230.2 549.5,1231.2 550.5,1231.8 552.5,1231.6 562.5,1232.9 599.5,1234.8 669.5,1236.6 800.5,1237.7 934.5,1242.0 1059.5,1243.7 1080.5,1243.5 1080.5,1254.7 1061.5,1255.0 931.5,1253.1 799.5,1248.7 669.5,1247.6 599.5,1245.8 552.5,1244.0 550.5,1243.5 532.5,1243.6 528.5,1243.0 527.5,1243.4 520.5,1243.5 519.5,1242.5 518.5,1242.4 517.5,1243.0 515.5,1243.3 507.5,1242.9 506.5,1242.8 505.5,1241.5 504.5,1241.4 503.5,1242.4 498.5,1241.2 497.5,1239.7 496.5,1239.5 495.5,1241.5 492.5,1240.9 491.5,1239.2 490.5,1239.0 486.5,1238.7 485.5,1239.5 480.5,1238.2 479.5,1236.8 477.5,1235.7 474.5,1235.0 473.5,1235.5 469.5,1234.8 468.5,1232.6 467.5,1224.9 466.5,1224.8 465.5,1223.5 464.5,1223.4 463.5,1224.0 459.5,1223.9 456.5,1222.7 455.5,1223.5 454.5,1223.7 453.5,1222.9 450.5,1224.7 446.5,1230.6 444.5,1230.2 443.5,1232.2 440.5,1232.5 439.5,1230.2 438.5,1230.2 437.5,1232.5 436.5,1232.5 434.5,1239.0 433.5,1238.4 432.5,1238.6 431.5,1240.0 430.5,1240.2 429.5,1237.8 424.5,1234.4 418.5,1227.2 416.5,1227.5 415.5,1225.5 414.5,1225.4 413.5,1227.4 410.5,1227.1 409.5,1226.3 407.5,1226.1 404.5,1226.7 403.5,1225.5 402.5,1225.5 401.5,1226.7 400.5,1226.6 399.5,1225.6 396.5,1226.1 395.5,1207.2 391.5,1207.9 389.5,1221.5 388.5,1221.7 387.5,1222.9 385.5,1222.7 384.5,1224.5 383.5,1228.6 381.5,1231.6 380.5,1236.3 379.5,1238.4 374.5,1239.1 373.5,1238.1 372.5,1238.2 371.5,1239.9 368.5,1240.6 366.5,1240.0 365.5,1240.8 363.5,1240.8 362.5,1240.3 361.5,1238.2 360.5,1237.7 359.5,1238.1 354.5,1235.3 349.5,1229.5 348.5,1229.5 347.5,1227.9 346.5,1227.9 345.5,1229.6 342.5,1229.7 341.5,1229.0 333.5,1232.7 332.5,1232.4 331.5,1231.3 330.5,1231.0 329.5,1231.7 328.5,1231.5 327.5,1228.8 326.5,1228.6 325.5,1229.6 322.5,1230.6 321.5,1229.2 318.5,1229.7 317.5,1231.3 316.5,1231.6 315.5,1232.6 312.5,1231.7 311.5,1229.6 310.5,1229.4 309.5,1231.3 308.5,1232.1 306.5,1239.3 305.5,1240.2 299.5,1238.7 296.5,1235.6 295.5,1237.7 294.5,1238.1 288.5,1238.3 287.5,1239.9 286.5,1240.0 285.5,1238.9 284.5,1239.1 283.5,1241.2 278.5,1241.4 277.5,1240.6 275.5,1241.7 273.5,1242.1 272.5,1242.1 271.5,1241.4 269.5,1242.2 256.5,1242.6" fill="#0B66D6"/>
<polygon points="1199.0,1240.0 1210.0,1240.3 1253.0,1239.9 1268.0,1240.4 1274.0,1240.0 1275.0,1240.4 1278.0,1240.1 1280.0,1240.5 1287.0,1239.6 1291.0,1237.4 1298.0,1238.2 1299.0,1238.9 1307.0,1239.8 1310.0,1238.5 1314.0,1237.6 1315.0,1236.2 1316.0,1235.8 1317.0,1237.2 1320.0,1237.0 1321.0,1237.6 1322.0,1237.7 1323.0,1237.1 1328.0,1238.0 1329.0,1237.4 1331.0,1237.4 1334.0,1238.0 1335.0,1238.7 1338.0,1238.0 1339.0,1238.4 1342.0,1238.1 1343.0,1238.9 1344.0,1239.0 1346.0,1238.5 1348.0,1229.1 1352.0,1228.2 1355.0,1228.8 1358.0,1230.3 1359.0,1230.3 1361.0,1232.1 1363.0,1231.1 1366.0,1230.9 1370.0,1229.1 1371.0,1230.6 1374.0,1232.9 1375.0,1231.7 1376.0,1232.2 1377.0,1231.9 1381.0,1234.0 1383.0,1234.3 1384.0,1234.2 1386.0,1231.5 1387.0,1231.5 1390.0,1224.8 1392.0,1224.3 1394.0,1224.6 1395.0,1225.8 1397.0,1226.0 1398.0,1225.3 1399.0,1222.5 1400.0,1221.4 1401.0,1222.2 1402.0,1221.7 1403.0,1219.0 1404.0,1218.7 1405.0,1219.5 1408.0,1217.9 1409.0,1218.6 1410.0,1218.4 1412.0,1214.6 1414.0,1214.9 1415.0,1213.3 1416.0,1213.4 1417.0,1215.4 1420.0,1216.6 1422.0,1213.6 1423.0,1213.1 1424.0,1211.7 1425.0,1208.1 1426.0,1206.7 1432.0,1206.1 1433.0,1207.3 1435.0,1207.3 1436.0,1207.1 1437.0,1205.9 1440.0,1205.0 1441.0,1204.0 1444.0,1205.6 1445.0,1205.4 1446.0,1205.8 1447.0,1207.0 1450.0,1207.4 1451.0,1208.8 1456.0,1210.5 1457.0,1210.1 1459.0,1219.8 1462.0,1213.2 1463.0,1213.2 1465.0,1211.8 1466.0,1211.9 1467.0,1210.9 1468.0,1211.1 1469.0,1212.8 1470.0,1212.9 1471.0,1211.7 1474.0,1221.7 1475.0,1221.7 1478.0,1224.7 1479.0,1227.2 1480.0,1228.1 1482.0,1229.0 1483.0,1228.5 1491.0,1234.1 1492.0,1235.6 1493.0,1238.8 1494.0,1240.0 1495.0,1240.1 1496.0,1237.4 1499.0,1232.5 1504.0,1229.1 1505.0,1230.1 1506.0,1229.4 1507.0,1211.1 1508.0,1202.8 1512.0,1203.4 1513.0,1204.5 1517.0,1203.2 1518.0,1199.2 1520.0,1182.2 1522.0,1182.4 1523.0,1184.7 1524.0,1184.8 1525.0,1183.6 1526.0,1183.7 1527.0,1185.0 1528.0,1185.1 1529.0,1186.4 1531.0,1196.3 1532.0,1196.8 1535.0,1192.8 1542.0,1193.4 1543.0,1195.7 1546.0,1207.7 1547.0,1209.2 1548.0,1212.4 1549.0,1217.2 1550.0,1217.3 1551.0,1215.7 1554.0,1216.3 1555.0,1215.4 1556.0,1215.5 1557.0,1217.8 1558.0,1217.5 1559.0,1214.9 1562.0,1213.1 1563.0,1213.9 1564.0,1213.2 1565.0,1211.6 1566.0,1212.0 1567.0,1213.9 1568.0,1214.4 1569.0,1212.7 1570.0,1213.1 1577.0,1232.1 1578.0,1233.1 1579.0,1231.2 1580.0,1230.9 1581.0,1232.7 1582.0,1232.4 1583.0,1229.9 1584.0,1229.6 1585.0,1231.1 1588.0,1230.4 1589.0,1231.4 1590.0,1231.4 1591.0,1229.4 1594.0,1229.2 1595.0,1230.1 1598.0,1231.0 1599.0,1230.6 1602.0,1232.8 1604.0,1233.6 1605.0,1235.7 1606.0,1236.2 1607.0,1235.7 1612.0,1239.2 1614.0,1238.7 1615.0,1237.4 1616.0,1237.1 1620.0,1235.9 1621.0,1236.9 1624.0,1235.4 1626.0,1236.8 1627.0,1236.7 1632.0,1241.3 1634.0,1242.3 1635.0,1243.4 1636.0,1243.6 1637.0,1242.6 1638.0,1242.8 1639.0,1244.0 1645.0,1244.7 1650.0,1248.5 1671.0,1248.1 1766.0,1251.1 1806.0,1251.8 1845.0,1253.6 1895.0,1255.0 1931.0,1249.9 1944.0,1244.7 1946.0,1245.0 1950.0,1243.9 1951.0,1244.2 1953.0,1242.7 1956.0,1241.6 1957.0,1232.7 1958.0,1230.5 1960.0,1230.6 1961.0,1229.7 1964.0,1229.0 1965.0,1227.6 1966.0,1218.3 1968.0,1216.1 1969.0,1213.4 1970.0,1212.4 1972.0,1212.0 1973.0,1212.8 1974.0,1212.9 1975.0,1212.4 1978.0,1213.6 1979.0,1230.9 1983.0,1232.9 1986.0,1233.2 1987.0,1237.2 1989.0,1240.6 1991.0,1247.1 1994.0,1248.1 1995.0,1249.3 1998.0,1250.4 1999.0,1250.2 2001.0,1251.7 2002.0,1252.1 2003.0,1251.7 2008.0,1253.7 2010.0,1254.1 2011.0,1254.9 2016.0,1255.5 2017.0,1256.7 2020.0,1257.1 2021.0,1256.6 2024.0,1257.3 2025.0,1258.2 2028.0,1258.2 2029.0,1259.4 2030.0,1259.6 2031.0,1258.8 2033.0,1258.6 2034.0,1258.6 2035.0,1259.5 2037.0,1259.5 2040.0,1258.3 2041.0,1259.1 2042.0,1258.7 2043.0,1257.1 2048.0,1256.1 2049.0,1255.1 2054.0,1252.8 2055.0,1253.2 2057.0,1251.7 2059.0,1251.3 2062.0,1249.7 2062.0,1262.8 2053.0,1267.4 2052.0,1267.2 2051.0,1267.8 2049.0,1269.5 2048.0,1269.0 2047.0,1269.5 2046.0,1270.9 2044.0,1271.4 2039.0,1274.3 2036.0,1275.0 2031.0,1273.7 2029.0,1273.8 2027.0,1272.9 2026.0,1273.2 2025.0,1272.9 2024.0,1271.9 2023.0,1271.6 2022.0,1272.0 2020.0,1271.0 2017.0,1270.4 2016.0,1269.6 2015.0,1269.4 2014.0,1269.8 2012.0,1268.7 2007.0,1267.8 2006.0,1266.9 2003.0,1266.7 2002.0,1265.8 1995.0,1263.9 1993.0,1262.5 1992.0,1263.0 1991.0,1262.1 1990.0,1259.2 1989.0,1257.9 1988.0,1258.3 1987.0,1257.5 1986.0,1257.6 1984.0,1255.9 1983.0,1254.6 1982.0,1250.5 1981.0,1248.8 1980.0,1249.2 1978.0,1247.6 1977.0,1247.4 1976.0,1245.9 1973.0,1245.1 1972.0,1244.5 1971.0,1242.5 1968.0,1240.5 1967.0,1240.6 1963.0,1248.4 1961.0,1249.7 1960.0,1252.6 1959.0,1253.5 1958.0,1252.0 1957.0,1252.9 1956.0,1255.0 1955.0,1255.4 1954.0,1256.8 1953.0,1257.1 1952.0,1256.8 1950.0,1258.1 1949.0,1258.2 1948.0,1257.5 1945.0,1257.5 1944.0,1258.1 1938.0,1259.3 1936.0,1260.2 1930.0,1261.7 1903.0,1265.9 1895.0,1266.7 1806.0,1263.1 1782.0,1263.3 1707.0,1260.8 1645.0,1259.5 1644.0,1258.6 1641.0,1258.2 1640.0,1259.2 1637.0,1259.2 1636.0,1257.9 1632.0,1258.9 1631.0,1258.7 1630.0,1257.1 1629.0,1257.0 1628.0,1258.3 1627.0,1258.2 1626.0,1256.9 1623.0,1255.9 1622.0,1257.7 1621.0,1257.5 1620.0,1255.5 1619.0,1255.4 1618.0,1256.1 1615.0,1254.8 1614.0,1255.7 1613.0,1255.6 1612.0,1254.5 1611.0,1254.3 1610.0,1256.3 1609.0,1256.2 1604.0,1252.6 1603.0,1252.2 1602.0,1253.2 1599.0,1251.4 1597.0,1251.4 1596.0,1250.2 1595.0,1250.6 1594.0,1253.2 1591.0,1254.0 1587.0,1250.7 1586.0,1248.6 1585.0,1248.0 1583.0,1250.2 1582.0,1252.1 1581.0,1252.8 1580.0,1251.6 1579.0,1252.3 1578.0,1254.8 1577.0,1254.9 1576.0,1253.1 1575.0,1253.2 1574.0,1255.0 1573.0,1255.1 1571.0,1251.9 1568.0,1250.1 1565.0,1247.0 1564.0,1246.6 1561.0,1247.3 1560.0,1248.9 1555.0,1250.4 1554.0,1248.5 1551.0,1247.2 1550.0,1245.0 1549.0,1244.3 1548.0,1245.4 1544.0,1240.2 1543.0,1239.2 1542.0,1239.3 1541.0,1238.3 1540.0,1235.5 1539.0,1234.5 1538.0,1235.0 1536.0,1229.6 1535.0,1229.7 1534.0,1230.8 1533.0,1230.9 1532.0,1230.1 1531.0,1230.2 1530.0,1231.3 1525.0,1231.2 1521.0,1237.4 1520.0,1236.5 1516.0,1240.5 1513.0,1240.7 1512.0,1241.8 1511.0,1242.1 1510.0,1239.7 1509.0,1239.9 1508.0,1249.7 1507.0,1254.6 1506.0,1253.1 1505.0,1253.2 1504.0,1254.9 1503.0,1255.1 1502.0,1254.6 1499.0,1255.6 1498.0,1253.4 1497.0,1253.3 1496.0,1254.6 1495.0,1254.5 1494.0,1253.2 1491.0,1251.1 1490.0,1252.1 1487.0,1250.8 1486.0,1249.3 1484.0,1248.5 1483.0,1248.1 1482.0,1249.0 1481.0,1248.6 1480.0,1246.5 1479.0,1246.1 1478.0,1247.7 1473.0,1246.1 1469.0,1243.0 1466.0,1242.6 1465.0,1242.7 1464.0,1244.3 1463.0,1244.4 1462.0,1243.5 1461.0,1243.5 1460.0,1242.8 1459.0,1242.8 1458.0,1244.7 1457.0,1244.5 1456.0,1241.7 1455.0,1241.2 1454.0,1241.6 1453.0,1241.2 1452.0,1241.4 1447.0,1238.7 1446.0,1239.9 1442.0,1240.5 1441.0,1240.5 1440.0,1239.5 1439.0,1239.6 1437.0,1243.5 1436.0,1243.8 1434.0,1246.6 1433.0,1247.0 1432.0,1248.3 1425.0,1248.7 1424.0,1247.1 1423.0,1247.1 1422.0,1247.7 1418.0,1245.0 1417.0,1244.7 1411.0,1246.7 1410.0,1245.7 1409.0,1245.8 1408.0,1247.0 1407.0,1247.1 1406.0,1246.6 1403.0,1246.6 1402.0,1245.5 1401.0,1245.6 1400.0,1247.9 1397.0,1248.3 1396.0,1247.1 1393.0,1247.7 1391.0,1248.6 1390.0,1249.8 1385.0,1251.1 1384.0,1250.5 1383.0,1250.7 1382.0,1250.3 1379.0,1250.5 1378.0,1251.0 1373.0,1250.2 1372.0,1250.7 1371.0,1250.5 1370.0,1248.6 1368.0,1252.0 1367.0,1252.6 1364.0,1253.0 1363.0,1252.9 1362.0,1252.0 1361.0,1251.9 1360.0,1253.0 1359.0,1252.9 1358.0,1251.8 1356.0,1252.3 1353.0,1252.1 1352.0,1251.4 1351.0,1251.4 1350.0,1250.4 1349.0,1250.4 1348.0,1252.4 1346.0,1252.8 1345.0,1252.7 1344.0,1251.7 1343.0,1251.6 1342.0,1252.6 1338.0,1251.8 1335.0,1252.2 1334.0,1251.3 1330.0,1251.5 1326.0,1250.9 1323.0,1250.9 1322.0,1251.8 1321.0,1251.8 1320.0,1250.8 1319.0,1250.7 1318.0,1252.0 1314.0,1251.7 1301.0,1252.3 1300.0,1251.6 1299.0,1251.6 1293.0,1251.9 1291.0,1252.4 1290.0,1251.6 1289.0,1251.7 1288.0,1252.7 1287.0,1252.7 1199.0,1250.8" fill="#0B66D6"/>
<polygon points="1080.0,1241.5 1082.3,1233.6 1086.8,1180.0 1087.5,1110.0 1090.0,1050.0 1095.0,1000.0 1096.0,987.0 1106.0,987.0 1110.0,1010.0 1113.6,1023.0 1121.0,1060.0 1122.0,1100.0 1125.0,1140.0 1133.2,1180.0 1142.0,1215.7 1144.0,1231.8 1155.0,1236.0 1167.0,1237.0 1200.0,1239.5 1200.0,1250.5 1167.0,1249.6 1150.0,1247.0 1136.8,1237.0 1133.2,1219.0 1122.5,1180.0 1120.0,1140.0 1117.0,1100.0 1110.0,1098.0 1103.0,1100.0 1097.0,1130.0 1095.7,1180.0 1095.7,1252.0 1080.0,1252.0" fill="#0B66D6"/>
<rect x="251" y="1231.5" width="11" height="76.0" fill="#0B66D6"/>
<polygon points="256.5,1113.5 269.5,1111.3 275.5,1106.7 276.5,1106.9 277.5,1106.3 278.5,1104.9 279.5,1104.6 280.5,1105.9 281.5,1105.5 282.5,1103.6 284.5,1102.6 287.5,1101.8 289.5,1100.6 290.5,1101.4 294.5,1099.9 299.5,1094.8 301.5,1089.2 302.5,1084.5 305.5,1082.7 306.5,1082.8 308.5,1080.7 312.5,1083.4 313.5,1092.3 314.5,1093.2 315.5,1091.6 316.5,1091.4 318.5,1086.7 319.5,1085.9 320.5,1086.5 321.5,1086.0 324.5,1082.6 327.5,1081.2 330.5,1074.0 331.5,1073.8 332.5,1075.2 335.5,1074.3 336.5,1075.1 339.5,1075.1 340.5,1073.5 343.5,1074.9 344.5,1075.9 345.5,1077.4 346.5,1080.5 347.5,1080.8 348.5,1079.1 353.5,1080.2 357.5,1082.7 359.5,1082.7 360.5,1082.2 361.5,1082.5 362.5,1084.5 364.5,1085.2 365.5,1086.7 366.5,1090.1 367.5,1103.4 368.5,1104.2 371.5,1098.3 372.5,1098.5 373.5,1097.5 374.5,1095.3 376.5,1092.7 378.5,1091.1 380.5,1058.6 387.5,1050.1 388.5,1050.1 389.5,1049.5 391.5,1047.5 392.5,1048.4 393.5,1047.8 394.5,1045.6 395.5,1045.6 396.5,1047.9 399.5,1049.5 401.5,1067.5 402.5,1066.6 403.5,1067.4 405.5,1069.2 406.5,1072.1 409.5,1074.0 410.5,1073.6 412.5,1076.4 415.5,1076.8 416.5,1075.6 417.5,1075.7 418.5,1076.5 419.5,1076.6 420.5,1077.8 421.5,1077.9 427.5,1070.2 428.5,1071.0 429.5,1069.8 430.5,1067.1 431.5,1066.1 435.5,1064.5 436.5,1065.2 438.5,1064.5 441.5,1068.4 442.5,1070.8 445.5,1071.3 447.5,1072.3 448.5,1070.7 449.5,1071.0 454.5,1080.5 457.5,1082.3 458.5,1081.8 459.5,1082.2 462.5,1084.8 463.5,1084.8 464.5,1083.2 468.5,1084.2 471.5,1084.2 472.5,1085.5 473.5,1085.5 474.5,1084.4 477.5,1082.6 479.5,1082.8 480.5,1081.8 483.5,1082.7 485.5,1088.3 487.5,1100.9 488.5,1099.3 489.5,1099.5 490.5,1101.5 493.5,1102.0 494.5,1100.2 495.5,1100.4 496.5,1101.8 499.5,1102.2 500.5,1101.8 503.5,1103.5 504.5,1102.9 505.5,1103.3 506.5,1104.6 509.5,1105.4 510.5,1107.3 511.5,1107.9 513.5,1109.0 514.5,1107.7 517.5,1109.3 518.5,1111.8 521.5,1112.7 522.5,1112.5 524.5,1114.4 525.5,1114.6 526.5,1113.9 529.5,1114.1 530.5,1114.7 531.5,1114.7 532.5,1114.0 533.5,1114.0 534.5,1114.8 539.5,1114.1 540.5,1114.8 541.5,1115.0 542.5,1114.5 552.5,1116.9 560.5,1118.1 599.5,1121.1 669.5,1124.1 768.5,1125.9 931.5,1130.6 1080.5,1132.5 1080.5,1143.8 932.5,1141.9 768.5,1136.9 670.5,1135.1 599.5,1132.1 556.5,1129.1 550.5,1129.1 544.5,1128.1 543.5,1128.7 538.5,1128.3 535.5,1128.7 528.5,1128.5 527.5,1127.7 520.5,1128.1 519.5,1126.9 516.5,1125.9 515.5,1128.0 513.5,1128.0 510.5,1127.0 509.5,1125.4 508.5,1125.3 507.5,1126.4 502.5,1125.6 501.5,1126.9 498.5,1126.6 497.5,1123.8 494.5,1122.9 493.5,1124.5 490.5,1123.4 489.5,1123.5 481.5,1119.9 480.5,1119.6 479.5,1120.3 478.5,1119.9 477.5,1117.8 476.5,1117.5 475.5,1118.3 474.5,1117.9 473.5,1118.8 472.5,1118.5 471.5,1117.4 470.5,1117.0 468.5,1111.9 467.5,1101.5 464.5,1100.4 463.5,1101.9 462.5,1101.8 461.5,1102.3 456.5,1101.4 455.5,1099.0 454.5,1099.2 453.5,1100.9 450.5,1102.2 448.5,1106.3 446.5,1112.6 442.5,1111.8 441.5,1113.2 439.5,1112.6 436.5,1112.7 434.5,1121.8 433.5,1120.1 432.5,1120.3 430.5,1121.1 429.5,1122.7 422.5,1114.5 417.5,1104.5 416.5,1104.4 415.5,1106.0 412.5,1105.7 411.5,1104.5 406.5,1104.3 405.5,1103.2 404.5,1103.1 403.5,1104.8 400.5,1104.2 399.5,1103.1 396.5,1103.0 395.5,1081.9 392.5,1082.1 391.5,1081.2 389.5,1099.0 386.5,1100.0 385.5,1100.8 382.5,1108.6 380.5,1118.3 379.5,1119.9 378.5,1120.0 377.5,1122.3 370.5,1122.8 369.5,1121.4 368.5,1121.7 367.5,1124.0 364.5,1124.3 360.5,1121.6 359.5,1119.8 358.5,1119.1 357.5,1119.3 356.5,1118.6 355.5,1117.0 353.5,1115.9 350.5,1108.9 349.5,1108.3 346.5,1108.6 345.5,1106.7 344.5,1106.7 343.5,1108.7 342.5,1108.7 341.5,1108.1 340.5,1108.4 339.5,1107.2 338.5,1107.6 337.5,1109.6 333.5,1110.9 330.5,1109.7 329.5,1110.3 326.5,1109.5 324.5,1109.4 322.5,1110.3 321.5,1108.9 320.5,1109.2 319.5,1110.7 318.5,1111.0 317.5,1109.9 316.5,1110.2 315.5,1111.8 309.5,1109.5 308.5,1110.5 306.5,1121.1 305.5,1119.8 304.5,1119.8 303.5,1121.2 302.5,1121.2 301.5,1120.0 300.5,1120.0 299.5,1121.6 295.5,1118.6 292.5,1120.7 291.5,1119.5 290.5,1119.7 289.5,1121.8 286.5,1121.8 284.5,1122.6 283.5,1121.8 282.5,1122.0 281.5,1122.9 278.5,1123.6 277.5,1122.6 276.5,1122.8 275.5,1124.2 274.5,1124.3 273.5,1123.6 267.5,1124.4 256.5,1124.7" fill="#0AA76A"/>
<polygon points="1199.0,1132.1 1210.0,1132.4 1251.0,1131.3 1282.0,1131.6 1283.0,1131.1 1285.0,1131.2 1288.0,1129.4 1289.0,1129.9 1290.0,1129.4 1291.0,1127.7 1292.0,1127.7 1296.0,1128.3 1299.0,1129.5 1304.0,1129.7 1306.0,1130.5 1308.0,1130.3 1310.0,1128.8 1311.0,1129.3 1314.0,1126.9 1315.0,1127.2 1317.0,1125.8 1319.0,1125.5 1330.0,1127.1 1331.0,1127.6 1334.0,1127.5 1335.0,1128.4 1338.0,1127.6 1339.0,1128.5 1344.0,1128.5 1345.0,1127.7 1346.0,1127.7 1348.0,1115.7 1349.0,1117.5 1352.0,1116.3 1353.0,1114.6 1354.0,1114.6 1358.0,1118.3 1359.0,1117.8 1361.0,1119.0 1362.0,1118.7 1363.0,1119.5 1364.0,1119.2 1365.0,1117.3 1368.0,1116.2 1370.0,1116.0 1371.0,1118.7 1372.0,1119.3 1373.0,1118.3 1376.0,1120.1 1378.0,1120.6 1379.0,1122.1 1380.0,1122.5 1381.0,1121.4 1383.0,1122.7 1385.0,1121.8 1391.0,1110.3 1396.0,1109.5 1397.0,1110.4 1399.0,1108.5 1401.0,1104.6 1402.0,1104.0 1404.0,1103.9 1405.0,1104.3 1406.0,1104.0 1407.0,1102.0 1410.0,1101.4 1413.0,1095.9 1414.0,1096.1 1415.0,1097.5 1416.0,1097.7 1417.0,1096.6 1420.0,1098.9 1421.0,1098.1 1422.0,1096.3 1423.0,1093.2 1426.0,1087.5 1427.0,1088.9 1430.0,1088.4 1431.0,1086.5 1432.0,1086.3 1433.0,1088.0 1436.0,1087.2 1437.0,1085.0 1438.0,1084.7 1439.0,1085.7 1441.0,1084.9 1443.0,1085.0 1446.0,1087.0 1447.0,1086.4 1448.0,1086.7 1449.0,1087.9 1452.0,1088.5 1453.0,1090.2 1456.0,1091.9 1457.0,1090.7 1459.0,1100.7 1460.0,1098.9 1461.0,1099.2 1463.0,1094.6 1465.0,1092.2 1466.0,1092.3 1467.0,1093.9 1468.0,1094.0 1469.0,1092.5 1471.0,1093.0 1474.0,1105.1 1475.0,1104.6 1476.0,1105.8 1477.0,1108.8 1480.0,1112.0 1481.0,1111.7 1482.0,1112.5 1483.0,1114.8 1484.0,1115.6 1485.0,1114.8 1490.0,1119.4 1495.0,1129.4 1498.0,1120.6 1502.0,1116.5 1503.0,1117.0 1506.0,1114.5 1507.0,1093.6 1508.0,1083.2 1510.0,1082.4 1511.0,1083.3 1512.0,1083.1 1513.0,1080.7 1514.0,1080.5 1515.0,1081.3 1516.0,1081.2 1517.0,1082.0 1518.0,1077.1 1520.0,1057.2 1521.0,1056.6 1522.0,1056.7 1523.0,1058.2 1524.0,1058.3 1525.0,1056.2 1526.0,1056.3 1527.0,1057.6 1528.0,1057.7 1529.0,1059.0 1531.0,1074.9 1532.0,1075.6 1534.0,1072.4 1535.0,1068.8 1536.0,1068.8 1537.0,1070.0 1542.0,1069.8 1543.0,1071.6 1545.0,1082.3 1548.0,1093.8 1549.0,1096.2 1550.0,1096.3 1551.0,1098.3 1552.0,1098.4 1553.0,1096.7 1556.0,1096.8 1557.0,1097.8 1558.0,1097.4 1560.0,1094.8 1561.0,1096.2 1562.0,1095.3 1563.0,1092.8 1565.0,1091.5 1568.0,1093.1 1569.0,1092.8 1570.0,1093.4 1575.0,1111.0 1577.0,1116.7 1578.0,1118.0 1584.0,1115.2 1588.0,1114.4 1589.0,1113.2 1592.0,1113.4 1593.0,1114.6 1594.0,1114.7 1595.0,1113.3 1596.0,1113.3 1598.0,1114.6 1599.0,1114.4 1606.0,1121.0 1607.0,1122.9 1610.0,1124.9 1611.0,1123.7 1612.0,1124.4 1614.0,1123.7 1615.0,1124.9 1618.0,1123.3 1619.0,1123.5 1622.0,1122.4 1623.0,1120.2 1625.0,1119.9 1628.0,1123.3 1629.0,1126.1 1630.0,1127.4 1631.0,1126.7 1633.0,1129.6 1634.0,1129.8 1635.0,1128.8 1636.0,1129.0 1637.0,1130.0 1641.0,1130.2 1644.0,1131.4 1645.0,1131.2 1647.0,1134.0 1650.0,1136.8 1668.0,1136.1 1677.0,1136.3 1728.0,1138.6 1742.0,1138.7 1746.0,1139.2 1747.0,1139.0 1752.0,1139.5 1774.0,1140.0 1780.0,1140.6 1781.0,1140.2 1806.0,1140.9 1844.0,1143.4 1874.0,1144.8 1888.0,1144.9 1894.0,1145.2 1895.0,1145.6 1898.0,1144.9 1902.0,1144.8 1909.0,1143.3 1911.0,1143.6 1914.0,1143.1 1915.0,1142.5 1917.0,1142.7 1921.0,1141.8 1931.0,1140.8 1940.0,1134.3 1943.0,1133.4 1946.0,1131.4 1948.0,1130.7 1949.0,1131.0 1952.0,1127.7 1953.0,1125.3 1956.0,1121.4 1957.0,1106.9 1958.0,1102.4 1962.0,1099.5 1963.0,1098.0 1964.0,1097.4 1965.0,1092.2 1966.0,1073.7 1970.0,1063.7 1973.0,1062.2 1974.0,1062.2 1975.0,1064.1 1978.0,1065.7 1979.0,1097.5 1980.0,1097.9 1981.0,1097.3 1982.0,1097.6 1983.0,1099.9 1986.0,1100.9 1989.0,1109.6 1991.0,1123.9 1994.0,1125.4 1995.0,1128.1 1996.0,1129.1 1997.0,1128.7 2000.0,1131.2 2001.0,1133.0 2006.0,1136.4 2008.0,1137.2 2010.0,1139.0 2013.0,1139.3 2019.0,1141.2 2022.0,1140.2 2023.0,1140.8 2026.0,1140.8 2027.0,1139.7 2029.0,1138.9 2030.0,1138.7 2031.0,1139.2 2037.0,1136.7 2038.0,1136.7 2039.0,1137.5 2044.0,1137.0 2045.0,1136.2 2048.0,1136.9 2049.0,1136.1 2053.0,1136.0 2060.0,1134.3 2061.0,1134.8 2062.0,1134.6 2062.0,1147.4 2057.0,1149.0 2056.0,1148.4 2053.0,1149.2 2052.0,1150.3 2049.0,1151.3 2048.0,1150.8 2045.0,1150.8 2044.0,1152.1 2041.0,1153.0 2040.0,1151.9 2037.0,1152.6 2036.0,1154.0 2033.0,1154.0 2032.0,1154.8 2029.0,1155.0 2028.0,1154.6 2024.0,1155.9 2021.0,1155.5 2020.0,1156.3 2019.0,1156.3 2017.0,1155.5 2016.0,1154.6 2013.0,1154.1 2007.0,1150.6 2006.0,1151.6 2005.0,1151.2 2004.0,1149.7 2003.0,1149.3 2002.0,1150.1 2001.0,1149.7 2000.0,1147.9 1999.0,1147.4 1998.0,1147.5 1995.0,1145.7 1994.0,1146.0 1993.0,1145.2 1992.0,1142.6 1985.0,1134.1 1980.0,1120.4 1979.0,1119.4 1973.0,1119.3 1972.0,1118.3 1970.0,1110.6 1969.0,1110.0 1966.0,1111.5 1962.0,1128.3 1959.0,1133.4 1958.0,1136.8 1956.0,1141.1 1953.0,1143.7 1951.0,1145.0 1950.0,1144.6 1947.0,1145.9 1946.0,1147.4 1939.0,1149.8 1938.0,1149.5 1936.0,1150.9 1931.0,1152.6 1919.0,1154.6 1913.0,1155.2 1911.0,1155.9 1905.0,1156.5 1901.0,1157.6 1886.0,1157.4 1882.0,1156.7 1874.0,1156.7 1807.0,1152.5 1778.0,1152.6 1776.0,1152.1 1763.0,1151.9 1755.0,1151.3 1754.0,1151.6 1743.0,1151.2 1742.0,1150.8 1668.0,1147.8 1647.0,1147.8 1645.0,1147.6 1644.0,1146.3 1643.0,1146.2 1639.0,1146.5 1638.0,1147.8 1635.0,1147.8 1634.0,1147.4 1632.0,1147.7 1631.0,1147.5 1630.0,1145.4 1627.0,1145.0 1626.0,1146.8 1625.0,1146.6 1624.0,1145.4 1623.0,1145.3 1622.0,1146.0 1619.0,1145.6 1615.0,1144.0 1614.0,1142.8 1613.0,1142.7 1612.0,1144.7 1611.0,1144.5 1610.0,1142.2 1609.0,1142.0 1608.0,1143.2 1607.0,1142.9 1606.0,1141.5 1605.0,1141.0 1604.0,1142.2 1603.0,1141.7 1602.0,1139.2 1601.0,1138.7 1600.0,1140.2 1597.0,1139.3 1596.0,1138.6 1592.0,1141.6 1591.0,1141.7 1589.0,1140.3 1588.0,1138.4 1585.0,1135.6 1584.0,1137.7 1583.0,1138.6 1582.0,1137.9 1579.0,1140.2 1578.0,1141.8 1577.0,1141.9 1576.0,1142.8 1573.0,1142.7 1572.0,1142.3 1570.0,1140.2 1565.0,1133.0 1563.0,1133.7 1560.0,1133.7 1557.0,1134.9 1556.0,1137.5 1555.0,1138.0 1554.0,1134.8 1553.0,1133.9 1552.0,1135.1 1549.0,1132.5 1547.0,1130.1 1546.0,1127.1 1543.0,1123.2 1542.0,1123.7 1538.0,1118.9 1536.0,1112.8 1535.0,1113.0 1534.0,1112.4 1531.0,1112.9 1530.0,1114.6 1529.0,1114.7 1528.0,1113.6 1525.0,1114.4 1524.0,1117.0 1521.0,1121.6 1520.0,1121.1 1518.0,1125.7 1515.0,1126.7 1514.0,1124.5 1509.0,1127.1 1507.0,1142.8 1505.0,1143.1 1504.0,1144.1 1503.0,1144.3 1502.0,1142.7 1501.0,1142.9 1499.0,1143.6 1498.0,1144.8 1497.0,1144.6 1496.0,1143.5 1489.0,1141.0 1488.0,1139.6 1487.0,1139.1 1484.0,1138.5 1481.0,1136.9 1479.0,1136.4 1478.0,1134.9 1475.0,1133.7 1474.0,1132.0 1469.0,1128.8 1464.0,1130.7 1463.0,1130.8 1462.0,1129.3 1461.0,1129.4 1460.0,1130.7 1458.0,1131.2 1456.0,1130.8 1453.0,1128.5 1452.0,1126.7 1449.0,1124.6 1448.0,1125.7 1445.0,1125.2 1443.0,1125.5 1442.0,1126.5 1439.0,1127.1 1438.0,1128.1 1434.0,1136.8 1433.0,1137.3 1432.0,1135.3 1425.0,1137.0 1424.0,1135.6 1423.0,1135.6 1421.0,1133.7 1420.0,1134.8 1418.0,1133.0 1416.0,1132.4 1415.0,1132.7 1414.0,1131.6 1413.0,1132.0 1412.0,1133.6 1410.0,1134.3 1407.0,1134.4 1406.0,1136.0 1403.0,1136.4 1402.0,1134.1 1399.0,1134.5 1398.0,1136.5 1393.0,1138.0 1390.0,1138.1 1387.0,1139.1 1386.0,1139.0 1383.0,1141.1 1382.0,1139.7 1381.0,1140.0 1380.0,1141.6 1379.0,1141.3 1378.0,1142.2 1375.0,1140.6 1374.0,1138.6 1373.0,1138.3 1372.0,1138.6 1370.0,1137.5 1369.0,1139.0 1368.0,1142.1 1366.0,1143.5 1361.0,1143.4 1360.0,1141.2 1359.0,1141.2 1358.0,1142.3 1356.0,1141.9 1353.0,1142.1 1352.0,1143.5 1351.0,1143.5 1348.0,1142.1 1347.0,1142.0 1346.0,1143.4 1339.0,1142.8 1338.0,1141.7 1335.0,1141.8 1334.0,1142.9 1327.0,1142.5 1326.0,1141.8 1323.0,1141.8 1322.0,1141.3 1321.0,1141.3 1320.0,1142.5 1317.0,1142.7 1316.0,1141.9 1311.0,1142.6 1310.0,1142.4 1308.0,1143.2 1301.0,1142.9 1297.0,1143.5 1296.0,1143.2 1291.0,1143.4 1290.0,1142.9 1285.0,1144.2 1284.0,1143.6 1282.0,1144.1 1274.0,1143.5 1272.0,1144.0 1199.0,1142.8" fill="#0AA76A"/>
<polygon points="1080.0,1131.8 1081.4,1131.8 1085.0,1120.0 1087.0,1080.0 1089.0,1030.0 1091.0,995.0 1093.6,949.0 1093.6,886.0 1096.7,839.0 1097.5,750.0 1092.0,728.0 1093.0,620.0 1094.0,490.0 1093.5,300.0 1093.5,256.0 1109.5,256.0 1109.0,300.0 1106.0,340.0 1103.0,490.0 1100.5,542.0 1099.0,569.0 1097.0,620.0 1095.5,728.0 1098.5,744.0 1105.3,750.0 1111.6,839.0 1119.4,886.0 1127.0,917.5 1130.3,964.0 1132.0,1010.0 1137.0,1023.0 1142.0,1076.0 1149.0,1112.0 1156.0,1130.0 1167.0,1131.5 1200.0,1132.0 1200.0,1142.5 1167.0,1142.5 1145.0,1140.0 1135.0,1112.0 1130.0,1076.0 1124.0,1023.0 1122.5,1010.0 1119.4,964.0 1117.8,949.0 1115.5,899.0 1111.6,899.0 1102.0,949.0 1099.0,995.0 1097.5,1023.0 1096.0,1060.0 1093.0,1110.0 1092.0,1142.5 1080.0,1142.5" fill="#0AA76A"/>
<rect x="251" y="1113.5" width="11" height="74.1" fill="#0AA76A"/>
<polygon points="256.5,972.0 267.5,968.2 269.5,968.2 271.5,965.6 273.5,964.2 274.5,964.5 275.5,963.4 276.5,960.1 277.5,959.0 278.5,960.1 279.5,959.5 280.5,957.5 281.5,956.9 282.5,957.7 285.5,955.7 286.5,954.2 291.5,950.1 292.5,950.1 293.5,949.1 294.5,946.8 297.5,944.7 299.5,941.8 302.5,926.8 305.5,922.9 306.5,922.7 307.5,921.4 309.5,923.4 310.5,922.6 311.5,923.4 312.5,923.1 313.5,936.9 314.5,940.7 317.5,932.6 318.5,928.1 319.5,926.8 320.5,927.0 323.5,924.4 324.5,925.1 327.5,922.6 329.5,911.9 331.5,911.5 332.5,910.4 333.5,910.1 334.5,908.8 337.5,907.5 338.5,910.1 341.5,911.6 342.5,911.2 343.5,911.6 346.5,918.5 347.5,918.9 348.5,917.8 351.5,919.1 352.5,918.6 356.5,920.9 360.5,922.1 363.5,923.7 365.5,928.4 366.5,934.0 367.5,954.7 368.5,954.0 370.5,948.3 372.5,944.2 375.5,940.5 376.5,940.4 377.5,938.8 378.5,935.3 380.5,886.4 382.5,881.4 387.5,871.7 388.5,872.2 392.5,866.8 393.5,865.8 395.5,865.3 396.5,867.9 397.5,868.8 398.5,867.3 399.5,868.1 401.5,897.5 403.5,900.9 404.5,901.4 407.5,905.0 409.5,906.6 411.5,910.6 413.5,910.5 414.5,912.0 415.5,912.2 416.5,911.5 422.5,912.0 426.5,905.2 428.5,899.9 431.5,894.4 432.5,895.1 433.5,894.6 434.5,895.3 437.5,893.7 439.5,897.3 440.5,898.0 441.5,899.7 442.5,902.7 443.5,903.0 444.5,902.6 447.5,903.4 448.5,902.4 449.5,902.8 450.5,904.7 453.5,915.6 454.5,917.8 459.5,922.1 460.5,922.1 461.5,922.8 463.5,922.6 465.5,923.3 466.5,922.1 467.5,922.2 468.5,923.0 471.5,923.8 472.5,923.0 473.5,923.1 474.5,925.2 475.5,924.6 478.5,918.6 481.5,919.6 482.5,922.2 483.5,922.8 484.5,922.1 485.5,927.3 487.5,948.4 488.5,946.9 493.5,949.5 494.5,948.4 495.5,948.7 496.5,949.5 501.5,950.9 502.5,952.7 503.5,953.2 504.5,952.6 506.5,953.1 507.5,953.6 508.5,955.0 509.5,955.5 510.5,955.2 511.5,956.2 512.5,959.3 513.5,960.2 514.5,959.3 515.5,960.3 516.5,963.5 517.5,964.4 518.5,964.3 521.5,967.4 523.5,968.8 524.5,968.6 526.5,969.4 531.5,969.0 532.5,970.3 539.5,969.3 540.5,970.5 544.5,970.7 548.5,971.5 552.5,973.2 560.5,975.1 600.5,978.4 670.5,980.6 799.5,983.2 938.5,988.4 1070.5,991.4 1080.5,990.6 1080.5,1002.1 1069.5,1002.8 1061.5,1002.8 932.5,999.7 793.5,994.1 670.5,991.6 600.5,989.4 558.5,986.7 554.5,985.9 549.5,986.3 544.5,985.8 542.5,986.0 540.5,985.7 539.5,984.5 534.5,984.5 533.5,985.7 530.5,985.3 527.5,984.3 524.5,984.1 523.5,985.2 520.5,985.3 519.5,983.5 518.5,983.4 517.5,984.5 516.5,984.5 515.5,983.8 514.5,983.8 513.5,982.7 512.5,982.5 511.5,984.2 508.5,983.9 504.5,982.5 503.5,983.6 502.5,983.4 501.5,982.3 498.5,982.1 494.5,978.9 493.5,980.7 492.5,980.3 491.5,978.8 484.5,975.6 483.5,973.7 481.5,973.3 478.5,971.4 477.5,973.0 474.5,971.6 473.5,969.5 469.5,968.1 468.5,963.4 467.5,946.3 462.5,945.9 460.5,945.1 459.5,943.6 458.5,943.3 456.5,943.4 454.5,944.5 453.5,944.2 450.5,946.4 448.5,954.4 446.5,960.5 445.5,961.9 442.5,962.0 441.5,961.1 440.5,961.1 439.5,963.0 438.5,963.0 437.5,961.2 436.5,961.2 434.5,975.9 433.5,976.8 430.5,977.7 429.5,976.9 426.5,970.8 425.5,970.6 424.5,968.8 419.5,957.8 417.5,951.2 414.5,950.1 413.5,950.8 412.5,950.6 411.5,951.4 408.5,951.5 406.5,951.1 405.5,948.7 402.5,948.4 401.5,950.1 400.5,950.0 399.5,948.0 398.5,947.9 397.5,950.2 396.5,950.1 395.5,914.6 394.5,914.6 393.5,915.7 392.5,915.7 391.5,914.4 389.5,943.1 386.5,944.1 385.5,946.1 381.5,960.0 379.5,975.0 376.5,976.3 375.5,977.5 370.5,979.7 369.5,979.0 366.5,980.4 364.5,979.9 363.5,980.1 358.5,974.2 357.5,971.7 354.5,968.7 353.5,969.2 350.5,958.2 349.5,956.8 348.5,956.8 347.5,955.8 346.5,955.8 345.5,957.3 344.5,957.3 343.5,955.2 342.5,955.2 341.5,956.9 340.5,957.5 339.5,956.1 338.5,956.9 337.5,960.2 336.5,961.0 335.5,959.2 334.5,960.0 333.5,962.8 332.5,962.3 331.5,960.2 330.5,959.7 329.5,960.8 328.5,960.4 327.5,957.8 326.5,957.3 325.5,959.0 324.5,959.0 323.5,957.9 320.5,958.7 317.5,962.4 316.5,962.9 315.5,960.5 314.5,960.1 313.5,961.0 309.5,959.8 308.5,961.4 306.5,975.0 305.5,978.9 304.5,978.9 303.5,977.6 302.5,977.6 301.5,979.0 300.5,979.0 295.5,972.5 292.5,976.1 291.5,978.0 290.5,978.4 288.5,978.9 287.5,976.9 286.5,977.1 285.5,979.5 284.5,979.7 283.5,977.9 282.5,978.2 280.5,979.1 279.5,980.9 276.5,982.1 275.5,980.7 271.5,982.3 267.5,981.9 263.5,983.0 261.5,982.7 256.5,983.2" fill="#A646BF"/>
<polygon points="1199.0,982.3 1210.0,982.9 1247.0,982.5 1252.0,983.0 1255.0,982.5 1257.0,983.0 1262.0,982.6 1268.0,983.3 1272.0,982.8 1274.0,983.5 1280.0,982.9 1281.0,983.6 1284.0,983.7 1290.0,981.1 1291.0,979.3 1292.0,979.3 1294.0,979.9 1295.0,979.5 1307.0,982.7 1308.0,982.5 1310.0,980.6 1311.0,980.8 1312.0,980.2 1313.0,978.7 1316.0,976.2 1317.0,977.1 1318.0,977.3 1319.0,978.7 1320.0,978.9 1321.0,977.2 1322.0,977.4 1323.0,978.7 1324.0,978.9 1325.0,978.0 1330.0,978.9 1331.0,980.1 1332.0,980.3 1336.0,979.8 1338.0,980.2 1339.0,981.4 1340.0,981.5 1341.0,979.9 1342.0,979.9 1343.0,980.9 1346.0,981.8 1348.0,966.0 1350.0,965.4 1352.0,964.0 1354.0,964.4 1355.0,963.5 1356.0,964.5 1357.0,966.9 1360.0,969.0 1366.0,966.7 1367.0,967.3 1371.0,965.8 1374.0,968.0 1377.0,972.5 1382.0,975.3 1384.0,974.6 1385.0,973.3 1389.0,962.2 1391.0,958.2 1394.0,957.7 1397.0,958.7 1401.0,953.1 1404.0,950.9 1405.0,949.5 1408.0,948.9 1409.0,947.1 1410.0,946.7 1412.0,941.7 1413.0,940.8 1414.0,941.1 1415.0,940.4 1416.0,940.7 1417.0,942.9 1420.0,945.0 1421.0,941.4 1424.0,934.2 1425.0,934.0 1427.0,929.7 1428.0,929.5 1429.0,930.9 1430.0,930.7 1431.0,928.9 1434.0,928.7 1435.0,929.2 1436.0,928.8 1437.0,927.1 1438.0,926.8 1439.0,927.1 1441.0,926.3 1444.0,927.5 1445.0,929.5 1446.0,930.1 1447.0,929.4 1449.0,929.6 1450.0,930.0 1451.0,931.2 1452.0,931.6 1453.0,930.9 1454.0,931.4 1455.0,934.5 1456.0,935.5 1457.0,934.7 1459.0,950.2 1461.0,944.3 1464.0,938.0 1466.0,938.2 1467.0,936.9 1469.0,937.7 1471.0,937.7 1475.0,954.9 1480.0,961.6 1482.0,963.6 1483.0,966.3 1486.0,969.1 1487.0,969.4 1490.0,972.7 1495.0,985.4 1498.0,974.0 1499.0,973.8 1501.0,972.2 1506.0,966.3 1507.0,938.4 1508.0,925.0 1509.0,926.1 1510.0,925.9 1511.0,924.1 1512.0,923.9 1513.0,924.8 1514.0,924.6 1515.0,923.5 1517.0,923.6 1518.0,917.2 1520.0,892.4 1521.0,891.4 1526.0,891.9 1527.0,894.0 1529.0,894.5 1531.0,914.6 1532.0,915.4 1534.0,912.2 1535.0,908.1 1536.0,908.1 1537.0,910.4 1538.0,910.4 1539.0,908.6 1542.0,909.2 1543.0,911.4 1545.0,924.6 1549.0,943.7 1552.0,944.3 1553.0,945.7 1554.0,945.8 1555.0,945.2 1557.0,945.4 1558.0,944.9 1560.0,942.4 1561.0,942.7 1564.0,938.0 1565.0,938.1 1568.0,940.4 1570.0,942.8 1571.0,944.9 1576.0,967.6 1578.0,972.0 1579.0,972.7 1580.0,972.2 1581.0,970.2 1586.0,967.7 1587.0,968.5 1588.0,968.5 1589.0,967.0 1590.0,967.1 1596.0,968.3 1597.0,966.9 1598.0,967.5 1599.0,970.5 1600.0,971.7 1601.0,971.0 1602.0,972.2 1603.0,975.8 1604.0,976.9 1606.0,978.7 1607.0,978.6 1610.0,981.2 1611.0,981.1 1613.0,982.8 1616.0,980.4 1617.0,981.4 1620.0,978.9 1624.0,977.1 1625.0,977.5 1626.0,979.1 1627.0,979.2 1629.0,983.8 1633.0,989.8 1634.0,990.2 1635.0,988.5 1636.0,988.8 1637.0,990.5 1638.0,990.9 1644.0,991.3 1650.0,998.8 1671.0,998.4 1675.0,999.0 1677.0,998.7 1684.0,999.4 1685.0,999.1 1704.0,999.9 1716.0,1000.9 1732.0,1001.2 1738.0,1001.9 1742.0,1001.7 1743.0,1002.2 1746.0,1001.9 1748.0,1002.5 1772.0,1003.1 1778.0,1003.8 1779.0,1003.5 1785.0,1004.0 1806.0,1003.8 1845.0,1006.1 1895.0,1007.4 1900.0,1006.4 1904.0,1004.7 1912.0,1003.3 1915.0,1002.0 1917.0,1001.9 1926.0,999.2 1926.0,1011.9 1915.0,1014.7 1901.0,1019.3 1900.0,1018.7 1896.0,1019.8 1892.0,1020.0 1889.0,1019.8 1888.0,1019.3 1880.0,1019.5 1874.0,1018.8 1872.0,1019.1 1868.0,1018.5 1844.0,1017.7 1806.0,1015.5 1776.0,1016.2 1757.0,1015.2 1756.0,1014.6 1753.0,1015.0 1750.0,1014.3 1748.0,1014.7 1738.0,1013.8 1736.0,1014.1 1728.0,1013.3 1726.0,1013.6 1700.0,1011.9 1698.0,1012.2 1692.0,1011.6 1683.0,1011.5 1681.0,1010.9 1678.0,1011.2 1675.0,1010.7 1651.0,1010.1 1645.0,1008.2 1644.0,1008.9 1641.0,1008.7 1640.0,1007.7 1639.0,1007.6 1638.0,1008.3 1633.0,1007.7 1630.0,1008.3 1629.0,1008.1 1628.0,1006.8 1627.0,1006.5 1626.0,1007.6 1623.0,1006.4 1619.0,1006.5 1618.0,1003.8 1617.0,1003.6 1615.0,1003.4 1614.0,1004.7 1611.0,1003.1 1610.0,1004.5 1609.0,1004.3 1608.0,1002.5 1605.0,1000.6 1604.0,1001.5 1601.0,999.0 1600.0,999.1 1599.0,998.5 1598.0,996.7 1596.0,996.0 1592.0,999.6 1590.0,999.7 1585.0,994.0 1581.0,998.8 1580.0,998.2 1578.0,1000.1 1575.0,1000.4 1574.0,1002.4 1573.0,1002.5 1571.0,999.6 1568.0,992.6 1565.0,987.2 1564.0,989.5 1561.0,991.5 1560.0,990.3 1557.0,993.1 1556.0,993.0 1555.0,993.6 1553.0,990.2 1552.0,990.8 1549.0,987.3 1546.0,981.6 1545.0,980.0 1544.0,979.5 1542.0,975.3 1539.0,970.6 1537.0,965.2 1536.0,960.7 1535.0,960.9 1534.0,963.3 1533.0,963.5 1532.0,962.7 1527.0,963.5 1524.0,964.6 1518.0,978.2 1515.0,979.3 1514.0,978.0 1509.0,980.4 1507.0,1000.0 1506.0,1000.8 1503.0,1001.6 1501.0,1001.8 1500.0,1000.6 1498.0,1001.5 1497.0,1001.3 1496.0,1001.7 1495.0,1001.1 1494.0,999.3 1492.0,997.4 1491.0,996.7 1490.0,997.9 1489.0,997.3 1488.0,995.1 1483.0,992.6 1482.0,991.1 1481.0,990.5 1480.0,991.8 1479.0,991.1 1478.0,988.7 1475.0,986.7 1474.0,986.7 1468.0,982.2 1467.0,982.3 1466.0,984.0 1465.0,984.1 1464.0,983.1 1459.0,984.1 1455.0,980.6 1454.0,980.7 1453.0,980.0 1452.0,980.2 1447.0,977.2 1446.0,975.0 1443.0,975.3 1442.0,977.3 1441.0,977.4 1440.0,975.6 1439.0,975.7 1438.0,980.1 1435.0,987.0 1434.0,990.7 1433.0,991.4 1432.0,990.1 1431.0,990.1 1430.0,991.2 1429.0,991.2 1427.0,990.9 1426.0,990.0 1423.0,989.4 1419.0,984.1 1417.0,983.2 1416.0,984.7 1411.0,987.8 1410.0,987.2 1407.0,988.0 1405.0,987.7 1404.0,989.1 1403.0,989.2 1402.0,988.8 1399.0,989.1 1398.0,987.8 1397.0,988.0 1395.0,988.7 1394.0,991.1 1393.0,991.4 1392.0,991.0 1389.0,992.4 1388.0,991.9 1387.0,992.3 1386.0,994.3 1385.0,994.7 1384.0,993.0 1383.0,993.5 1382.0,995.7 1381.0,996.2 1380.0,994.5 1379.0,994.1 1378.0,996.2 1377.0,995.8 1376.0,992.9 1375.0,992.5 1374.0,994.5 1373.0,994.1 1372.0,992.1 1371.0,991.7 1369.0,994.8 1368.0,994.6 1367.0,995.6 1366.0,997.8 1365.0,997.8 1364.0,996.1 1363.0,996.1 1362.0,995.4 1361.0,995.3 1360.0,996.4 1359.0,996.3 1358.0,997.5 1357.0,997.5 1356.0,995.2 1355.0,995.1 1354.0,996.4 1350.0,996.7 1349.0,996.6 1348.0,995.3 1347.0,995.2 1346.0,997.1 1345.0,997.1 1344.0,996.0 1343.0,996.0 1342.0,996.8 1341.0,996.7 1340.0,996.0 1337.0,995.8 1336.0,994.9 1333.0,995.3 1332.0,995.9 1329.0,995.6 1328.0,993.9 1327.0,993.8 1326.0,995.2 1325.0,995.3 1324.0,993.6 1323.0,993.5 1321.0,993.9 1320.0,995.2 1318.0,995.7 1317.0,995.7 1316.0,994.1 1312.0,995.5 1310.0,995.1 1303.0,996.1 1302.0,995.4 1297.0,995.5 1296.0,994.7 1295.0,994.7 1294.0,995.9 1291.0,995.1 1290.0,996.4 1285.0,996.3 1283.0,995.9 1282.0,996.5 1271.0,996.1 1268.0,995.4 1266.0,995.8 1264.0,995.3 1255.0,995.3 1254.0,994.8 1246.0,995.0 1244.0,994.6 1238.0,994.7 1199.0,993.0" fill="#A646BF"/>
<polygon points="1080.0,990.7 1081.9,990.7 1081.9,886.0 1086.0,808.0 1089.5,740.0 1090.5,600.0 1091.0,400.0 1091.5,300.0 1093.5,250.0 1096.0,190.0 1097.6,141.0 1106.4,141.0 1108.5,190.0 1111.5,230.0 1112.0,260.0 1112.5,316.0 1114.5,360.0 1120.5,408.0 1124.5,448.0 1126.0,483.0 1128.0,540.0 1130.0,570.0 1131.5,620.0 1134.5,644.0 1137.0,714.0 1138.0,750.0 1142.8,827.0 1142.8,886.0 1146.0,902.0 1152.0,949.0 1161.6,968.0 1172.5,983.0 1185.0,980.0 1200.0,980.5 1200.0,993.5 1185.0,992.5 1172.0,996.0 1160.0,983.0 1150.6,968.0 1141.0,949.0 1135.0,902.0 1133.4,886.0 1133.4,827.0 1128.0,750.0 1127.0,714.0 1125.0,644.0 1122.5,620.0 1120.5,569.0 1118.0,542.0 1115.0,484.0 1112.0,400.0 1112.0,330.0 1111.8,300.0 1111.0,260.0 1108.0,210.0 1104.0,195.0 1098.5,195.0 1097.0,200.0 1092.5,270.0 1093.0,320.0 1099.0,400.0 1102.5,490.0 1100.5,542.0 1099.0,569.0 1097.0,620.0 1096.0,728.0 1095.0,808.0 1091.0,886.0 1091.0,1001.4 1080.0,1001.4" fill="#A646BF"/>
<polygon points="1925.0,999.0 1932.0,995.0 1938.0,988.0 1941.6,967.0 1948.7,966.0 1953.2,953.0 1955.5,925.0 1957.0,916.0 1965.0,915.0 1965.0,832.0 1967.0,828.5 1977.0,828.5 1978.6,832.0 1979.0,915.0 1987.0,917.5 1991.6,940.0 1992.0,962.0 2003.0,968.0 2005.5,995.0 2015.0,1003.0 2027.0,1007.0 2040.0,1008.0 2047.0,1000.0 2050.0,994.0 2062.0,994.0 2062.0,1025.0 2057.7,1025.0 2049.6,1027.5 2042.0,1027.0 2035.0,1024.0 2027.0,1029.0 2015.0,1025.0 2005.0,1010.0 1995.0,1003.0 1986.0,990.0 1984.5,970.0 1972.0,962.0 1971.0,935.0 1970.0,932.5 1966.0,932.5 1964.0,935.0 1963.5,956.0 1958.0,972.0 1953.0,985.0 1948.7,995.0 1944.0,1000.0 1938.0,1008.0 1932.0,1009.6 1925.0,1010.0" fill="#A646BF"/>
<rect x="251" y="972.0" width="11" height="75.5" fill="#A646BF"/>
<polygon points="256.5,859.0 269.5,854.5 270.5,855.1 271.5,854.3 272.5,851.9 275.5,848.9 276.5,849.2 278.5,847.1 282.5,844.1 285.5,843.0 288.5,840.4 289.5,839.8 290.5,840.8 293.5,838.6 294.5,836.7 297.5,833.8 299.5,830.4 300.5,827.5 302.5,817.4 307.5,810.0 309.5,811.4 310.5,813.1 311.5,813.8 312.5,813.4 313.5,826.4 314.5,829.2 316.5,823.1 318.5,819.0 319.5,817.8 320.5,818.0 321.5,817.2 322.5,814.6 325.5,812.4 326.5,813.7 327.5,812.9 330.5,800.5 332.5,800.5 335.5,799.2 336.5,800.0 337.5,799.7 344.5,802.6 346.5,807.3 347.5,807.6 348.5,809.2 349.5,809.6 350.5,809.1 353.5,810.5 354.5,809.8 356.5,810.4 357.5,810.8 358.5,813.2 359.5,813.6 360.5,812.4 363.5,813.2 366.5,824.0 367.5,843.5 371.5,834.8 378.5,826.0 380.5,778.3 385.5,770.4 386.5,766.4 387.5,764.6 388.5,765.4 391.5,762.6 392.5,760.4 393.5,759.5 395.5,759.5 396.5,759.7 399.5,761.5 401.5,788.0 402.5,790.5 403.5,791.6 404.5,791.8 409.5,797.9 411.5,801.8 413.5,802.5 414.5,803.8 415.5,803.9 417.5,803.7 418.5,801.9 422.5,802.5 423.5,800.6 424.5,801.0 426.5,796.0 429.5,791.4 430.5,788.2 431.5,786.7 432.5,787.2 435.5,786.7 436.5,784.5 437.5,784.0 439.5,787.1 440.5,790.5 441.5,792.1 443.5,793.1 444.5,792.8 446.5,793.3 449.5,794.9 453.5,806.3 461.5,811.7 462.5,813.7 463.5,813.8 464.5,812.2 465.5,812.4 466.5,814.3 467.5,814.4 468.5,813.7 471.5,814.3 472.5,813.0 474.5,813.4 475.5,812.8 478.5,808.8 479.5,808.9 481.5,810.4 482.5,812.5 484.5,813.0 485.5,817.9 487.5,834.8 489.5,835.8 490.5,837.7 491.5,838.0 492.5,836.9 493.5,837.1 494.5,838.6 495.5,838.8 496.5,837.1 497.5,837.3 498.5,838.4 503.5,840.5 504.5,842.2 505.5,842.7 506.5,841.3 509.5,842.8 510.5,844.7 512.5,846.5 513.5,847.4 514.5,847.2 516.5,849.8 519.5,851.9 520.5,854.4 521.5,855.2 522.5,854.2 526.5,857.9 527.5,857.9 528.5,856.6 531.5,857.4 533.5,857.3 534.5,856.5 535.5,856.5 538.5,857.8 539.5,857.8 540.5,856.7 544.5,858.2 546.5,858.2 549.5,859.0 552.5,860.6 559.5,861.9 600.5,865.2 670.5,867.3 768.5,868.9 934.5,873.8 1080.5,876.3 1080.5,887.7 1051.5,887.6 936.5,885.2 768.5,879.9 670.5,878.3 600.5,876.2 562.5,873.7 556.5,873.7 554.5,873.0 553.5,873.4 550.5,873.4 549.5,872.4 548.5,872.3 547.5,873.0 542.5,872.2 541.5,873.1 540.5,873.1 539.5,871.9 538.5,871.9 537.5,872.8 536.5,872.8 529.5,871.3 528.5,871.3 527.5,872.7 526.5,872.7 525.5,871.4 522.5,871.6 520.5,871.0 519.5,869.9 518.5,869.9 517.5,872.0 516.5,871.9 514.5,871.7 513.5,869.7 510.5,869.9 509.5,870.5 508.5,870.4 507.5,869.4 504.5,868.5 503.5,869.4 502.5,869.3 501.5,870.7 498.5,870.3 494.5,868.4 492.5,866.9 491.5,864.9 490.5,864.5 489.5,865.2 488.5,864.8 487.5,865.2 482.5,863.3 481.5,861.5 480.5,861.1 479.5,861.6 477.5,861.0 476.5,860.5 475.5,858.7 474.5,858.2 473.5,856.7 472.5,856.2 471.5,856.8 469.5,855.6 468.5,851.2 467.5,836.6 466.5,836.4 465.5,835.5 458.5,834.6 457.5,833.5 456.5,833.2 455.5,831.7 454.5,832.0 453.5,835.1 452.5,836.0 451.5,835.0 449.5,837.3 446.5,850.5 444.5,851.0 443.5,849.0 442.5,849.0 441.5,851.4 440.5,851.4 439.5,849.3 436.5,849.1 434.5,863.3 432.5,864.5 431.5,863.5 429.5,864.1 428.5,862.4 427.5,862.1 425.5,857.2 422.5,852.4 420.5,847.0 419.5,846.7 417.5,842.0 416.5,841.8 415.5,839.7 412.5,838.9 411.5,840.5 410.5,840.4 409.5,838.7 406.5,838.0 405.5,840.0 404.5,839.9 403.5,838.4 402.5,838.3 401.5,839.8 396.5,839.1 395.5,806.0 392.5,806.2 391.5,804.7 389.5,832.3 386.5,832.9 385.5,835.8 381.5,849.3 379.5,864.7 378.5,864.9 377.5,863.5 374.5,863.8 373.5,866.0 372.5,866.2 371.5,865.3 370.5,865.7 369.5,867.2 368.5,867.6 367.5,866.4 366.5,866.7 365.5,868.7 364.5,868.4 363.5,866.2 358.5,862.2 356.5,859.3 355.5,859.6 353.5,857.3 350.5,846.4 349.5,845.3 346.5,845.3 344.5,844.8 343.5,846.0 341.5,845.9 340.5,846.5 339.5,846.2 337.5,847.1 334.5,849.6 333.5,851.3 332.5,850.8 331.5,849.3 329.5,848.3 328.5,847.8 327.5,848.3 325.5,847.1 322.5,847.7 321.5,846.9 319.5,847.3 318.5,847.8 317.5,850.3 315.5,851.0 314.5,850.6 313.5,849.4 310.5,848.4 309.5,848.8 308.5,850.3 306.5,863.1 305.5,864.4 303.5,864.7 301.5,864.2 299.5,864.4 296.5,859.3 295.5,862.0 294.5,862.8 293.5,861.9 292.5,862.7 291.5,865.1 290.5,865.5 289.5,864.9 288.5,865.2 287.5,864.2 286.5,864.4 285.5,867.0 284.5,867.2 283.5,866.4 282.5,866.6 281.5,865.8 280.5,866.0 279.5,868.4 278.5,868.7 277.5,867.4 276.5,867.6 275.5,869.1 273.5,869.6 272.5,869.6 271.5,868.9 267.5,869.7 265.5,869.4 256.5,870.2" fill="#FDBD4A"/>
<polygon points="1199.0,875.3 1210.0,875.8 1242.0,874.5 1244.0,874.8 1249.0,874.3 1258.0,874.6 1260.0,874.3 1264.0,874.7 1265.0,874.2 1268.0,874.3 1269.0,874.8 1272.0,874.7 1273.0,874.2 1285.0,874.4 1288.0,871.6 1290.0,870.6 1292.0,870.8 1293.0,870.3 1296.0,871.2 1297.0,870.6 1300.0,871.2 1301.0,872.5 1302.0,872.6 1303.0,872.1 1305.0,872.3 1306.0,872.6 1307.0,873.6 1308.0,873.4 1311.0,870.3 1316.0,866.9 1321.0,868.4 1324.0,868.3 1328.0,869.7 1329.0,868.2 1330.0,868.4 1331.0,869.8 1334.0,870.3 1335.0,869.5 1338.0,870.2 1342.0,869.4 1344.0,869.5 1345.0,870.6 1346.0,870.6 1348.0,853.3 1352.0,852.5 1353.0,853.0 1355.0,853.0 1356.0,854.0 1357.0,856.2 1360.0,858.7 1361.0,856.4 1366.0,854.6 1367.0,856.5 1368.0,856.1 1369.0,854.4 1370.0,854.0 1372.0,856.4 1373.0,855.8 1374.0,856.5 1375.0,858.2 1378.0,861.3 1379.0,860.1 1382.0,861.5 1383.0,863.8 1384.0,863.5 1390.0,845.8 1394.0,845.9 1397.0,844.4 1398.0,843.3 1401.0,837.3 1402.0,836.5 1404.0,836.0 1405.0,836.9 1406.0,836.5 1407.0,834.4 1408.0,833.9 1409.0,835.4 1410.0,834.9 1412.0,828.0 1413.0,826.8 1414.0,827.1 1415.0,826.0 1416.0,826.2 1418.0,827.3 1420.0,829.6 1424.0,819.8 1425.0,818.9 1427.0,815.2 1428.0,815.0 1429.0,813.4 1432.0,813.3 1433.0,814.7 1434.0,814.3 1435.0,812.6 1436.0,812.3 1437.0,813.2 1438.0,812.8 1439.0,810.5 1440.0,810.1 1446.0,813.3 1447.0,815.0 1448.0,815.3 1449.0,813.8 1452.0,814.9 1453.0,816.5 1456.0,819.1 1457.0,819.0 1459.0,833.7 1462.0,825.5 1465.0,820.8 1468.0,821.9 1469.0,824.0 1470.0,824.1 1471.0,822.1 1474.0,837.9 1476.0,841.1 1477.0,841.4 1478.0,843.0 1481.0,849.5 1482.0,850.7 1483.0,849.9 1488.0,856.5 1489.0,856.7 1490.0,857.8 1495.0,872.2 1498.0,859.9 1502.0,854.9 1504.0,851.4 1505.0,851.9 1506.0,850.7 1507.0,820.9 1508.0,806.8 1509.0,808.0 1512.0,807.1 1513.0,805.8 1514.0,805.5 1515.0,806.0 1516.0,805.7 1517.0,806.6 1518.0,799.9 1520.0,772.1 1521.0,771.7 1522.0,771.9 1523.0,774.4 1524.0,774.5 1525.0,772.2 1526.0,772.3 1527.0,774.2 1528.0,774.4 1529.0,775.7 1531.0,795.5 1532.0,796.4 1534.0,791.3 1535.0,790.5 1538.0,790.7 1539.0,789.4 1542.0,790.2 1543.0,794.0 1546.0,813.6 1549.0,827.3 1550.0,827.5 1551.0,828.8 1554.0,829.4 1556.0,829.2 1557.0,827.6 1559.0,826.7 1562.0,822.7 1563.0,823.0 1565.0,820.9 1566.0,821.7 1567.0,820.8 1568.0,821.6 1569.0,824.0 1570.0,824.8 1571.0,827.4 1577.0,853.6 1578.0,855.4 1586.0,849.9 1587.0,851.9 1588.0,851.9 1592.0,851.1 1593.0,850.3 1594.0,850.3 1595.0,851.6 1596.0,851.6 1597.0,849.8 1599.0,851.5 1604.0,857.7 1605.0,860.6 1608.0,862.6 1609.0,862.3 1612.0,864.9 1613.0,866.6 1614.0,866.0 1615.0,863.6 1616.0,863.0 1617.0,864.7 1619.0,863.7 1624.0,858.8 1625.0,859.3 1628.0,865.1 1629.0,864.4 1631.0,868.5 1633.0,871.4 1634.0,871.7 1635.0,871.4 1636.0,871.7 1637.0,872.9 1644.0,874.6 1646.0,877.0 1647.0,877.5 1650.0,882.0 1666.0,881.3 1674.0,881.6 1677.0,881.3 1688.0,881.7 1690.0,882.2 1693.0,881.8 1695.0,882.3 1702.0,882.1 1716.0,883.0 1718.0,882.6 1720.0,883.1 1727.0,882.8 1730.0,883.4 1740.0,883.6 1741.0,883.3 1764.0,884.3 1766.0,884.0 1768.0,884.6 1777.0,884.5 1782.0,884.9 1790.0,884.6 1791.0,885.0 1793.0,884.7 1806.0,884.8 1845.0,887.1 1868.0,887.4 1870.0,887.8 1872.0,887.5 1878.0,888.1 1884.0,887.8 1886.0,888.3 1892.0,888.0 1893.0,888.5 1900.0,887.8 1901.0,887.1 1904.0,886.7 1907.0,886.9 1909.0,886.1 1914.0,885.4 1915.0,885.7 1917.0,884.8 1926.0,883.8 1926.0,896.3 1915.0,898.4 1914.0,898.0 1911.0,898.5 1910.0,899.2 1907.0,899.5 1905.0,900.3 1904.0,899.8 1902.0,900.8 1897.0,901.2 1886.0,900.2 1878.0,900.4 1856.0,899.0 1842.0,898.7 1806.0,896.5 1793.0,897.0 1789.0,896.8 1787.0,897.3 1784.0,896.9 1776.0,897.3 1774.0,896.8 1769.0,897.0 1762.0,896.2 1759.0,896.2 1758.0,896.6 1750.0,895.9 1747.0,896.2 1743.0,895.6 1716.0,895.2 1714.0,894.7 1710.0,895.0 1699.0,894.2 1694.0,894.4 1692.0,894.0 1685.0,894.0 1680.0,893.5 1675.0,893.8 1673.0,893.3 1670.0,893.6 1666.0,893.2 1645.0,893.1 1644.0,891.6 1643.0,891.5 1642.0,892.4 1640.0,892.8 1635.0,892.1 1634.0,892.9 1633.0,892.8 1632.0,890.5 1631.0,890.3 1630.0,891.0 1629.0,890.8 1628.0,892.1 1627.0,891.9 1626.0,890.8 1623.0,890.1 1622.0,890.9 1617.0,889.4 1616.0,887.7 1615.0,887.5 1614.0,889.2 1613.0,888.9 1612.0,886.7 1609.0,885.9 1608.0,886.6 1606.0,886.2 1605.0,885.6 1604.0,883.1 1599.0,880.5 1598.0,881.7 1597.0,881.7 1596.0,880.0 1595.0,880.6 1594.0,883.0 1592.0,884.5 1591.0,884.7 1590.0,881.4 1589.0,880.3 1588.0,881.0 1585.0,877.1 1583.0,879.5 1582.0,882.3 1581.0,883.5 1580.0,882.9 1578.0,886.1 1577.0,886.3 1576.0,885.7 1573.0,886.1 1569.0,878.5 1568.0,879.1 1565.0,871.4 1564.0,872.9 1563.0,873.6 1561.0,874.4 1560.0,874.1 1559.0,874.7 1558.0,877.4 1555.0,879.1 1554.0,875.9 1549.0,871.1 1545.0,863.1 1544.0,862.3 1543.0,860.6 1542.0,860.4 1539.0,855.4 1538.0,853.4 1536.0,846.4 1533.0,846.4 1532.0,845.0 1531.0,845.2 1530.0,846.6 1529.0,846.8 1528.0,847.9 1525.0,848.7 1523.0,853.3 1522.0,854.2 1519.0,861.8 1518.0,863.1 1517.0,863.5 1516.0,862.5 1515.0,862.9 1514.0,862.2 1513.0,862.6 1512.0,864.0 1509.0,864.9 1507.0,887.1 1506.0,886.6 1499.0,889.1 1497.0,888.1 1496.0,886.1 1495.0,886.0 1494.0,887.1 1493.0,886.4 1492.0,883.9 1489.0,881.2 1488.0,883.0 1487.0,882.4 1485.0,880.8 1484.0,878.1 1483.0,877.5 1482.0,879.3 1481.0,878.7 1480.0,875.9 1477.0,873.9 1474.0,872.9 1471.0,869.3 1470.0,869.7 1469.0,868.9 1468.0,870.2 1467.0,870.3 1466.0,868.9 1463.0,869.5 1462.0,868.3 1461.0,868.4 1460.0,870.7 1458.0,871.3 1457.0,870.9 1456.0,868.3 1454.0,866.4 1453.0,865.6 1452.0,866.7 1451.0,865.9 1450.0,863.7 1448.0,861.7 1447.0,861.4 1446.0,863.6 1445.0,863.8 1444.0,862.5 1443.0,862.6 1442.0,864.3 1439.0,864.5 1434.0,877.4 1433.0,878.1 1432.0,876.6 1431.0,876.6 1430.0,878.3 1427.0,877.8 1423.0,878.5 1421.0,875.6 1420.0,875.2 1419.0,873.9 1418.0,871.1 1417.0,870.7 1415.0,871.5 1414.0,873.9 1413.0,874.4 1412.0,873.7 1411.0,874.2 1410.0,875.9 1409.0,876.1 1408.0,874.8 1407.0,874.9 1406.0,876.8 1405.0,877.0 1404.0,875.9 1399.0,877.7 1398.0,876.9 1397.0,877.2 1396.0,878.8 1393.0,880.0 1392.0,879.1 1391.0,879.4 1387.0,881.8 1385.0,882.3 1384.0,884.0 1381.0,885.4 1377.0,883.2 1375.0,882.8 1374.0,883.7 1373.0,883.3 1372.0,881.9 1370.0,880.9 1368.0,886.0 1367.0,887.0 1363.0,886.4 1362.0,885.1 1360.0,884.6 1359.0,884.6 1358.0,886.6 1355.0,887.0 1354.0,886.1 1353.0,886.1 1349.0,886.8 1348.0,885.6 1343.0,885.6 1341.0,885.1 1340.0,885.7 1339.0,885.6 1338.0,884.6 1337.0,884.6 1336.0,886.2 1335.0,886.1 1334.0,884.8 1333.0,884.7 1332.0,885.8 1331.0,885.7 1329.0,884.9 1328.0,883.9 1327.0,883.8 1326.0,885.6 1325.0,885.6 1324.0,884.8 1323.0,884.8 1322.0,883.8 1321.0,883.8 1320.0,885.9 1319.0,885.9 1318.0,884.5 1317.0,884.5 1316.0,885.8 1314.0,886.2 1313.0,886.2 1312.0,885.5 1308.0,886.4 1305.0,886.2 1301.0,886.7 1300.0,886.1 1298.0,885.9 1291.0,886.0 1290.0,887.0 1282.0,887.7 1279.0,887.2 1273.0,887.6 1272.0,887.0 1269.0,887.4 1268.0,886.9 1266.0,887.4 1262.0,887.4 1253.0,887.1 1252.0,886.6 1249.0,886.6 1248.0,887.1 1238.0,886.5 1232.0,886.8 1199.0,885.9" fill="#FDBD4A"/>
<polygon points="1080.0,876.0 1081.9,876.0 1081.9,808.0 1087.3,769.0 1090.5,730.0 1091.0,600.0 1091.5,400.0 1091.7,315.0 1092.5,280.0 1094.5,230.0 1095.6,189.0 1109.3,189.0 1109.8,230.0 1110.2,260.0 1111.0,300.0 1112.0,316.0 1114.0,360.0 1120.0,408.0 1124.0,448.0 1126.0,483.0 1128.0,540.0 1130.0,570.0 1131.5,620.0 1134.5,644.0 1139.0,700.0 1142.8,740.0 1142.8,824.0 1147.5,847.0 1161.6,867.5 1169.4,874.0 1200.0,875.0 1200.0,885.0 1165.0,884.0 1153.8,867.5 1141.0,850.0 1133.4,824.0 1133.4,745.0 1130.0,714.0 1125.0,644.0 1122.5,620.0 1120.5,569.0 1118.0,542.0 1115.0,484.0 1113.0,420.0 1112.0,350.0 1111.5,320.0 1110.8,290.0 1109.6,258.0 1093.8,258.0 1093.2,280.0 1094.0,320.0 1100.0,400.0 1102.5,490.0 1100.5,542.0 1099.0,569.0 1097.0,620.0 1096.5,728.0 1096.7,761.0 1092.8,808.0 1092.0,885.0 1080.0,885.0" fill="#FDBD4A"/>
<polygon points="1925.0,883.0 1932.0,882.5 1938.0,872.0 1941.7,862.0 1950.0,855.0 1955.0,835.0 1957.6,815.3 1965.0,813.0 1965.0,745.0 1967.0,715.0 1977.0,715.0 1979.4,745.0 1979.4,813.0 1987.0,817.0 1988.6,830.0 1990.0,857.0 1996.0,866.0 2008.7,882.0 2020.0,889.0 2032.0,897.5 2045.0,890.0 2057.0,885.0 2062.0,885.0 2062.0,900.0 2057.0,900.0 2045.0,902.0 2032.0,907.5 2020.0,905.0 2010.0,901.0 2000.0,895.0 1988.6,885.6 1978.6,855.5 1970.0,828.0 1965.0,828.7 1960.0,857.0 1950.0,882.0 1941.7,890.7 1932.0,895.0 1925.0,895.0" fill="#FDBD4A"/>
<rect x="251" y="859.0" width="11" height="73.5" fill="#FDBD4A"/>
<polygon points="256.5,740.0 267.5,736.8 272.5,734.7 275.5,731.5 283.5,727.3 284.5,725.4 287.5,724.1 289.5,722.6 290.5,723.5 295.5,717.1 296.5,718.4 297.5,717.5 300.5,710.6 302.5,702.0 303.5,700.9 304.5,698.3 307.5,695.1 310.5,697.8 311.5,698.4 312.5,698.3 313.5,710.3 314.5,713.4 318.5,702.0 319.5,700.9 320.5,702.6 321.5,701.8 322.5,699.8 325.5,698.0 326.5,698.2 327.5,697.5 330.5,686.5 333.5,685.3 334.5,686.1 335.5,685.8 336.5,686.5 337.5,686.3 338.5,684.3 339.5,684.7 340.5,687.5 341.5,687.9 342.5,687.4 344.5,688.8 346.5,692.4 351.5,693.4 352.5,695.2 353.5,695.5 354.5,694.9 355.5,695.3 356.5,695.1 363.5,697.9 365.5,701.8 366.5,707.1 367.5,725.1 369.5,721.2 370.5,720.7 372.5,716.5 375.5,713.5 376.5,711.1 378.5,708.3 380.5,665.5 382.5,663.1 388.5,652.2 393.5,647.8 395.5,647.2 397.5,648.1 398.5,651.2 399.5,652.0 401.5,675.0 407.5,681.1 408.5,681.0 409.5,682.0 412.5,687.2 413.5,687.3 414.5,686.6 417.5,687.0 418.5,688.2 421.5,687.9 422.5,689.1 429.5,675.5 430.5,676.1 432.5,672.0 435.5,670.9 436.5,671.8 437.5,671.4 439.5,675.4 440.5,674.6 441.5,676.1 442.5,679.1 443.5,679.4 444.5,678.4 449.5,679.9 453.5,691.0 455.5,692.6 456.5,694.4 459.5,696.4 463.5,697.8 464.5,697.0 469.5,697.1 470.5,697.9 473.5,698.4 474.5,699.9 475.5,699.4 478.5,694.3 479.5,694.4 480.5,695.9 481.5,696.4 482.5,695.5 484.5,696.3 485.5,700.8 487.5,719.1 488.5,717.8 489.5,718.0 490.5,720.1 491.5,720.3 493.5,720.5 494.5,719.3 497.5,719.7 498.5,722.5 499.5,722.9 500.5,721.8 503.5,723.1 504.5,724.7 505.5,725.2 506.5,724.4 509.5,725.2 513.5,729.0 514.5,728.8 515.5,729.6 517.5,731.9 518.5,734.1 520.5,736.1 521.5,736.7 522.5,735.9 524.5,738.4 525.5,738.7 532.5,737.6 539.5,737.6 540.5,738.7 544.5,738.6 550.5,740.7 559.5,742.4 600.5,745.0 768.5,747.0 927.5,750.1 1080.5,751.6 1080.5,762.9 929.5,761.5 767.5,758.0 600.5,756.0 548.5,753.8 547.5,753.0 546.5,752.9 545.5,753.9 544.5,753.8 543.5,752.9 540.5,753.3 539.5,752.7 538.5,752.7 537.5,753.6 534.5,752.8 533.5,753.5 532.5,753.5 528.5,753.0 527.5,752.2 526.5,752.2 525.5,753.3 524.5,753.2 523.5,752.7 520.5,752.7 519.5,751.9 516.5,752.4 515.5,751.5 512.5,750.5 511.5,751.4 508.5,751.2 507.5,751.9 504.5,751.2 503.5,750.3 502.5,750.1 499.5,751.3 498.5,751.1 497.5,749.8 494.5,749.3 493.5,747.6 492.5,747.2 491.5,747.8 488.5,746.4 487.5,746.7 486.5,746.3 485.5,744.4 484.5,744.0 483.5,745.1 482.5,744.7 481.5,742.8 478.5,742.3 477.5,741.0 474.5,739.1 473.5,739.5 472.5,739.1 471.5,739.9 470.5,739.5 468.5,733.0 467.5,720.0 466.5,719.8 465.5,718.8 462.5,718.8 461.5,717.9 460.5,717.7 459.5,718.4 458.5,718.2 456.5,717.2 455.5,715.7 454.5,715.9 453.5,718.3 450.5,720.7 448.5,726.2 447.5,727.0 445.5,732.2 444.5,732.2 443.5,733.5 442.5,733.5 441.5,731.5 438.5,731.6 437.5,732.3 436.5,732.3 434.5,746.1 430.5,747.2 428.5,742.6 427.5,742.9 424.5,738.7 420.5,730.5 419.5,729.3 417.5,723.5 414.5,723.1 413.5,723.8 411.5,724.0 408.5,723.6 407.5,721.6 406.5,721.5 405.5,723.2 402.5,722.8 401.5,720.8 400.5,720.7 399.5,722.5 398.5,722.4 397.5,720.7 396.5,720.6 395.5,690.1 394.5,690.1 393.5,691.1 392.5,691.1 391.5,692.0 389.5,715.8 388.5,716.1 387.5,715.1 386.5,715.5 381.5,732.4 380.5,740.7 379.5,744.2 376.5,745.4 375.5,746.7 372.5,746.5 369.5,748.5 368.5,748.8 367.5,748.5 365.5,749.5 364.5,749.3 363.5,746.2 362.5,745.3 361.5,746.9 360.5,746.0 359.5,742.8 356.5,741.1 354.5,738.3 353.5,738.5 350.5,728.2 349.5,727.4 348.5,727.4 347.5,728.7 346.5,728.7 345.5,728.1 342.5,728.4 341.5,726.8 340.5,727.3 339.5,729.4 334.5,733.0 332.5,732.7 331.5,730.9 330.5,730.4 326.5,729.0 325.5,730.1 324.5,730.1 323.5,728.7 318.5,731.3 317.5,732.8 316.5,733.2 315.5,731.4 314.5,731.0 313.5,731.7 312.5,731.3 311.5,732.1 309.5,731.2 308.5,732.6 306.5,745.6 304.5,745.2 303.5,747.4 302.5,747.4 301.5,745.7 300.5,745.7 296.5,741.9 295.5,743.3 292.5,745.4 291.5,744.9 286.5,745.8 285.5,748.1 284.5,748.3 283.5,746.5 280.5,748.1 279.5,747.3 278.5,747.6 277.5,749.8 275.5,750.4 274.5,750.6 273.5,749.2 271.5,750.3 270.5,750.4 269.5,749.8 262.5,750.5 261.5,751.1 256.5,751.2" fill="#06BEC7"/>
<polygon points="1166.5,752.5 1209.5,753.7 1243.5,752.2 1247.5,752.4 1248.5,751.9 1250.5,752.4 1276.5,751.4 1284.5,751.8 1285.5,751.5 1289.5,748.0 1291.5,747.4 1292.5,748.3 1297.5,748.9 1298.5,748.3 1308.5,750.1 1315.5,744.6 1317.5,744.5 1318.5,743.5 1319.5,743.7 1320.5,744.6 1323.5,745.1 1324.5,744.6 1327.5,745.1 1328.5,746.1 1331.5,746.0 1332.5,746.9 1333.5,747.1 1337.5,746.9 1338.5,746.3 1339.5,746.3 1340.5,747.9 1341.5,747.9 1342.5,746.3 1345.5,746.3 1346.5,744.4 1347.5,731.4 1348.5,732.0 1349.5,731.6 1350.5,728.9 1351.5,728.5 1352.5,729.6 1354.5,728.5 1359.5,733.3 1360.5,734.9 1361.5,734.5 1362.5,733.3 1365.5,732.0 1366.5,732.9 1370.5,731.8 1373.5,733.9 1374.5,733.8 1379.5,736.7 1380.5,738.0 1383.5,739.7 1384.5,739.3 1389.5,724.7 1391.5,724.2 1392.5,722.6 1394.5,722.0 1395.5,721.8 1396.5,723.0 1397.5,722.9 1399.5,717.3 1400.5,717.2 1401.5,715.6 1403.5,714.4 1404.5,712.6 1407.5,711.1 1408.5,713.2 1409.5,712.8 1412.5,703.5 1413.5,703.7 1414.5,705.2 1415.5,705.4 1416.5,704.5 1418.5,705.2 1419.5,706.2 1420.5,705.5 1423.5,698.9 1425.5,693.1 1426.5,691.9 1427.5,691.7 1428.5,692.8 1431.5,692.6 1432.5,690.6 1433.5,690.2 1434.5,691.4 1437.5,689.9 1440.5,687.7 1441.5,687.6 1445.5,689.9 1449.5,691.2 1450.5,693.2 1451.5,693.5 1452.5,693.0 1454.5,693.3 1457.5,696.3 1458.5,708.4 1459.5,709.3 1463.5,699.2 1465.5,699.5 1466.5,698.5 1469.5,699.1 1470.5,698.6 1471.5,700.1 1473.5,712.3 1474.5,715.6 1475.5,717.2 1476.5,717.6 1479.5,722.8 1484.5,729.2 1485.5,730.3 1486.5,729.8 1487.5,730.9 1488.5,734.2 1489.5,735.3 1490.5,735.1 1492.5,742.1 1494.5,746.5 1495.5,745.8 1497.5,735.7 1501.5,730.8 1502.5,731.1 1503.5,729.9 1504.5,727.0 1505.5,725.8 1506.5,712.0 1507.5,684.5 1509.5,683.3 1510.5,683.7 1511.5,683.5 1512.5,684.3 1515.5,683.4 1517.5,683.2 1519.5,657.2 1520.5,650.5 1525.5,651.9 1526.5,649.8 1527.5,649.9 1528.5,651.6 1531.5,675.0 1532.5,671.3 1534.5,667.4 1535.5,666.4 1541.5,666.3 1542.5,667.4 1548.5,703.5 1549.5,704.9 1550.5,703.7 1554.5,703.4 1557.5,703.9 1559.5,702.3 1560.5,702.6 1561.5,701.4 1562.5,697.9 1564.5,695.7 1565.5,695.5 1569.5,699.4 1570.5,701.0 1577.5,732.2 1578.5,729.6 1579.5,729.0 1580.5,730.3 1581.5,729.8 1582.5,727.2 1585.5,725.7 1593.5,725.7 1594.5,727.0 1595.5,727.0 1596.5,725.7 1597.5,725.7 1598.5,728.7 1599.5,729.9 1600.5,729.0 1604.5,735.0 1607.5,737.1 1609.5,739.2 1610.5,739.1 1612.5,740.2 1613.5,739.6 1614.5,740.0 1615.5,739.4 1616.5,737.6 1617.5,737.0 1618.5,737.6 1621.5,734.7 1622.5,736.5 1624.5,735.3 1626.5,736.6 1628.5,739.1 1631.5,745.9 1632.5,745.3 1635.5,746.9 1638.5,747.0 1641.5,748.0 1642.5,750.2 1643.5,750.5 1644.5,748.6 1645.5,749.5 1648.5,754.7 1650.5,756.2 1667.5,755.1 1671.5,755.6 1672.5,755.2 1688.5,756.4 1693.5,756.3 1695.5,756.9 1715.5,757.5 1716.5,757.9 1725.5,758.5 1726.5,758.1 1728.5,758.6 1737.5,758.7 1739.5,759.2 1743.5,759.0 1753.5,760.0 1756.5,759.7 1761.5,759.9 1765.5,760.7 1766.5,760.2 1777.5,761.1 1781.5,761.0 1782.5,761.5 1786.5,761.2 1806.5,761.9 1843.5,765.2 1869.5,766.3 1881.5,767.5 1885.5,767.1 1893.5,768.0 1895.5,767.6 1896.5,768.1 1899.5,767.7 1901.5,768.1 1902.5,767.5 1908.5,767.1 1910.5,767.6 1914.5,766.8 1921.5,767.1 1922.5,766.6 1929.5,766.4 1932.5,765.8 1937.5,762.2 1942.5,759.8 1943.5,759.4 1944.5,760.3 1945.5,760.0 1948.5,757.4 1951.5,752.7 1952.5,753.8 1953.5,752.4 1954.5,748.6 1955.5,747.2 1957.5,722.7 1959.5,720.8 1960.5,721.6 1961.5,720.9 1962.5,718.4 1964.5,717.5 1966.5,687.2 1969.5,677.4 1970.5,675.7 1973.5,673.4 1974.5,674.9 1978.5,678.0 1979.5,719.5 1980.5,718.8 1982.5,719.5 1983.5,720.0 1984.5,722.3 1986.5,723.2 1988.5,732.3 1990.5,749.0 1991.5,753.9 1993.5,755.3 1994.5,755.3 1995.5,755.9 1997.5,757.9 1998.5,757.6 1999.5,758.3 2000.5,761.2 2001.5,761.8 2002.5,761.9 2007.5,765.1 2008.5,764.2 2009.5,764.8 2010.5,766.4 2011.5,766.7 2012.5,765.3 2013.5,765.5 2015.5,766.1 2016.5,768.3 2017.5,768.4 2018.5,767.6 2021.5,769.1 2022.5,767.3 2023.5,767.5 2024.5,769.7 2027.5,770.2 2029.5,770.3 2030.5,769.2 2033.5,768.5 2034.5,769.4 2035.5,769.1 2039.5,770.8 2040.5,769.5 2041.5,769.9 2042.5,772.5 2043.5,772.9 2044.5,771.3 2049.5,773.2 2050.5,774.6 2051.5,774.8 2052.5,775.8 2053.5,775.9 2054.5,774.5 2055.5,774.6 2056.5,775.6 2061.5,776.4 2061.5,792.1 2058.5,791.9 2056.5,791.3 2055.5,790.4 2054.5,790.4 2053.5,792.2 2046.5,792.3 2045.5,791.0 2044.5,791.0 2043.5,790.1 2040.5,790.3 2039.5,790.9 2038.5,790.9 2037.5,792.2 2036.5,792.0 2035.5,790.2 2032.5,789.8 2031.5,790.3 2028.5,790.2 2027.5,787.7 2026.5,787.5 2025.5,788.4 2024.5,788.0 2023.5,789.0 2022.5,788.6 2021.5,786.6 2018.5,786.0 2017.5,786.4 2012.5,784.9 2011.5,783.4 2008.5,781.7 2007.5,782.7 2006.5,782.3 2005.5,780.2 2004.5,779.9 2003.5,781.7 2002.5,781.4 2001.5,780.0 1999.5,779.0 1998.5,778.7 1997.5,779.7 1996.5,779.4 1995.5,777.6 1994.5,777.3 1993.5,777.6 1988.5,767.2 1983.5,759.8 1979.5,744.4 1976.5,742.4 1975.5,743.5 1972.5,742.3 1969.5,730.2 1966.5,731.5 1965.5,733.9 1962.5,751.5 1961.5,755.2 1959.5,758.8 1956.5,766.5 1955.5,768.2 1950.5,772.6 1949.5,774.8 1938.5,777.2 1937.5,776.2 1936.5,776.5 1935.5,777.6 1929.5,778.7 1908.5,780.6 1904.5,780.1 1903.5,781.0 1902.5,781.1 1901.5,780.5 1899.5,780.9 1892.5,780.1 1888.5,780.2 1886.5,779.7 1885.5,780.0 1881.5,779.2 1879.5,779.5 1873.5,779.2 1808.5,773.7 1781.5,774.0 1778.5,773.8 1777.5,773.3 1769.5,773.2 1741.5,771.2 1735.5,771.3 1730.5,770.7 1724.5,770.7 1721.5,770.1 1708.5,769.8 1707.5,769.2 1695.5,769.0 1670.5,767.3 1648.5,767.5 1644.5,767.0 1640.5,765.8 1639.5,765.0 1638.5,765.0 1637.5,765.7 1634.5,765.0 1632.5,765.6 1631.5,767.2 1630.5,767.0 1629.5,765.6 1628.5,765.4 1627.5,763.9 1626.5,763.7 1625.5,764.2 1622.5,763.1 1621.5,764.1 1620.5,763.9 1619.5,764.6 1618.5,764.4 1617.5,762.0 1616.5,761.8 1615.5,762.5 1610.5,761.2 1609.5,762.5 1607.5,762.3 1606.5,761.7 1605.5,760.2 1602.5,759.1 1601.5,756.7 1600.5,756.1 1599.5,756.4 1598.5,755.8 1597.5,753.7 1596.5,754.3 1595.5,756.7 1594.5,757.3 1593.5,756.9 1592.5,757.5 1591.5,759.6 1590.5,759.0 1589.5,757.2 1586.5,753.9 1584.5,754.3 1582.5,756.7 1581.5,755.8 1577.5,760.5 1574.5,760.3 1573.5,761.7 1572.5,761.9 1568.5,753.6 1566.5,750.7 1564.5,749.0 1562.5,749.7 1561.5,748.9 1558.5,750.5 1557.5,753.4 1556.5,754.0 1554.5,753.3 1552.5,750.9 1551.5,750.6 1550.5,749.4 1549.5,746.3 1544.5,739.1 1542.5,734.5 1541.5,734.3 1538.5,728.5 1537.5,728.3 1536.5,723.3 1535.5,720.9 1534.5,721.1 1533.5,722.9 1531.5,723.6 1528.5,723.9 1527.5,723.4 1525.5,723.9 1524.5,725.1 1518.5,737.3 1516.5,738.5 1512.5,739.0 1510.5,740.4 1509.5,741.8 1508.5,746.1 1507.5,762.4 1506.5,762.6 1505.5,761.8 1502.5,763.5 1501.5,762.9 1500.5,763.2 1499.5,762.2 1498.5,762.5 1497.5,764.9 1494.5,762.2 1493.5,760.6 1492.5,759.9 1491.5,760.7 1490.5,760.0 1489.5,757.4 1488.5,756.8 1487.5,758.3 1486.5,757.7 1485.5,755.5 1484.5,754.9 1483.5,755.9 1480.5,754.3 1479.5,752.4 1478.5,751.8 1477.5,752.5 1474.5,750.3 1471.5,747.2 1468.5,745.8 1467.5,743.8 1466.5,743.9 1465.5,746.1 1464.5,746.2 1463.5,744.4 1462.5,744.5 1461.5,747.1 1460.5,747.2 1459.5,744.7 1458.5,744.9 1457.5,746.5 1454.5,743.0 1453.5,744.4 1451.5,742.2 1450.5,741.4 1449.5,741.4 1447.5,739.5 1444.5,740.0 1443.5,739.2 1441.5,738.9 1440.5,739.1 1439.5,740.9 1437.5,743.1 1433.5,754.0 1430.5,753.6 1429.5,752.7 1424.5,752.4 1423.5,754.7 1422.5,754.7 1418.5,748.6 1417.5,748.6 1410.5,752.0 1405.5,753.2 1402.5,753.6 1401.5,752.1 1400.5,752.3 1399.5,754.0 1398.5,754.2 1397.5,753.5 1394.5,754.3 1393.5,756.0 1390.5,756.6 1388.5,757.9 1387.5,756.5 1386.5,757.0 1385.5,759.7 1384.5,760.2 1383.5,759.0 1380.5,761.6 1378.5,760.2 1377.5,761.5 1376.5,761.1 1375.5,759.5 1374.5,759.1 1373.5,760.0 1370.5,758.5 1369.5,759.0 1368.5,761.0 1367.5,761.6 1366.5,761.6 1365.5,763.6 1364.5,763.6 1363.5,762.9 1360.5,763.2 1359.5,762.5 1356.5,763.0 1353.5,761.4 1352.5,761.4 1351.5,762.5 1348.5,762.6 1347.5,763.4 1342.5,762.4 1339.5,763.3 1338.5,763.2 1337.5,762.5 1334.5,762.8 1333.5,761.9 1332.5,761.8 1331.5,762.4 1328.5,762.1 1326.5,762.5 1325.5,761.3 1324.5,761.3 1323.5,762.7 1322.5,762.7 1321.5,761.4 1318.5,762.2 1317.5,761.3 1315.5,761.0 1312.5,762.4 1311.5,763.4 1310.5,763.4 1309.5,762.6 1307.5,763.6 1300.5,763.6 1298.5,764.2 1296.5,763.9 1295.5,763.0 1294.5,763.0 1293.5,764.2 1288.5,764.8 1287.5,763.5 1283.5,764.9 1282.5,764.9 1281.5,764.3 1273.5,764.9 1270.5,764.8 1269.5,764.2 1265.5,764.8 1261.5,764.4 1248.5,764.7 1247.5,764.3 1245.5,764.7 1241.5,764.3 1210.5,764.4 1166.5,763.0" fill="#06BEC7"/>
<polygon points="1080.0,751.5 1083.5,750.0 1085.0,735.0 1087.0,600.0 1089.5,540.0 1091.5,480.0 1092.0,400.0 1092.5,330.0 1094.0,314.0 1100.0,311.0 1108.0,312.0 1110.0,316.0 1115.0,360.0 1121.0,408.0 1125.0,448.0 1126.5,483.0 1128.5,540.0 1130.5,570.0 1132.0,620.0 1135.0,644.0 1139.5,714.0 1141.0,738.0 1147.0,740.0 1152.0,745.0 1160.0,750.0 1167.5,752.5 1167.5,763.0 1160.0,762.5 1152.0,757.0 1140.0,755.0 1132.0,745.0 1129.0,714.0 1124.0,644.0 1121.5,620.0 1119.6,569.0 1117.0,542.0 1114.0,490.0 1112.0,484.0 1106.0,484.0 1103.5,490.0 1101.0,542.0 1099.5,569.0 1097.5,620.0 1096.0,728.0 1096.0,763.0 1080.0,763.0" fill="#06BEC7"/>
<rect x="251" y="740" width="11" height="107.7" fill="#06BEC7"/>
</g>
<line x1="1091" y1="742" x2="967.3" y2="655.0" stroke="#000" stroke-width="5"/><polygon points="947.2,640.8 987.3,655.1 975.7,660.9 974.2,673.7" fill="#000"/><line x1="1115" y1="841" x2="1160.4" y2="630.1" stroke="#000" stroke-width="5"/><polygon points="1165,609 1168.6,646.6 1158.6,638.9 1146.3,641.8" fill="#000"/><line x1="1967.4" y1="682.3" x2="1947.1" y2="643.2" stroke="#000" stroke-width="5"/><polygon points="1936.2,622 1964.6,652.0 1951.7,652.0 1944.3,662.5" fill="#000"/>
<g font-family="'Liberation Sans', Arial, sans-serif" font-weight="bold" font-size="89" transform="matrix(1,0,0,1.015,0,-24.75)"><text x="256.5" y="1650" text-anchor="middle">4000</text><text x="514.0" y="1650" text-anchor="middle">3500</text><text x="771.5" y="1650" text-anchor="middle">3000</text><text x="1029.0" y="1650" text-anchor="middle">2500</text><text x="1286.5" y="1650" text-anchor="middle">2000</text><text x="1544.0" y="1650" text-anchor="middle">1500</text><text x="1801.5" y="1650" text-anchor="middle">1000</text><text x="2059.0" y="1650" text-anchor="middle">500</text></g>
<g transform="matrix(1.0004,0,0,1.0190,0.16,-15.15)"><text x="593" y="739.9" font-family="'Liberation Sans', Arial, sans-serif" font-weight="bold" font-size="82">750.59</text></g>
<g transform="matrix(0.8786,0,0,1.0246,101.31,-19.60)"><text x="850" y="739.9" font-family="'DejaVu Sans', 'Noto Sans CJK SC', sans-serif" font-weight="200" font-size="75">℃</text></g>
<g transform="matrix(0.9963,0,0,1.0034,3.38,-4.43)"><text x="591" y="849.5" font-family="'Liberation Sans', Arial, sans-serif" font-weight="bold" font-size="82">645.09</text></g>
<g transform="matrix(0.8943,0,0,1.0211,87.69,-19.42)"><text x="846.3" y="849.5" font-family="'DejaVu Sans', 'Noto Sans CJK SC', sans-serif" font-weight="200" font-size="75">℃</text></g>
<g transform="matrix(0.9533,0,0,1.0190,28.79,-19.23)"><text x="583" y="976.3" font-family="'Liberation Sans', Arial, sans-serif" font-weight="bold" font-size="82">556.61</text></g>
<g transform="matrix(0.8676,0,0,1.0368,109.67,-36.69)"><text x="839.4" y="976.3" font-family="'DejaVu Sans', 'Noto Sans CJK SC', sans-serif" font-weight="200" font-size="75">℃</text></g>
<g transform="matrix(0.9972,0,0,1.0034,5.16,-4.81)"><text x="585" y="1103" font-family="'Liberation Sans', Arial, sans-serif" font-weight="bold" font-size="82">400.23</text></g>
<g transform="matrix(0.8800,0,0,1.0211,99.12,-24.24)"><text x="842.0" y="1103" font-family="'DejaVu Sans', 'Noto Sans CJK SC', sans-serif" font-weight="200" font-size="75">℃</text></g>
<g transform="matrix(1.0004,0,0,1.0034,0.96,-5.34)"><text x="591" y="1228.9" font-family="'Liberation Sans', Arial, sans-serif" font-weight="bold" font-size="82">252.07</text></g>
<g transform="matrix(0.8814,0,0,1.0211,98.70,-26.99)"><text x="847.2" y="1228.9" font-family="'DejaVu Sans', 'Noto Sans CJK SC', sans-serif" font-weight="200" font-size="75">℃</text></g>
<g transform="matrix(0.9901,0,0,1.0190,5.71,-26.43)"><text x="593" y="1345.1" font-family="'Liberation Sans', Arial, sans-serif" font-weight="bold" font-size="82">188.32</text></g>
<g transform="matrix(0.8690,0,0,1.0368,109.33,-50.49)"><text x="844.6" y="1345.1" font-family="'DejaVu Sans', 'Noto Sans CJK SC', sans-serif" font-weight="200" font-size="75">℃</text></g>
<g transform="matrix(1.0035,0,0,1.0034,1.16,-6.24)"><text x="610" y="1459.8" font-family="'Liberation Sans', Arial, sans-serif" font-weight="bold" font-size="82">40.17</text></g>
<g transform="matrix(0.8700,0,0,1.0211,105.00,-31.96)"><text x="821.1" y="1459.8" font-family="'DejaVu Sans', 'Noto Sans CJK SC', sans-serif" font-weight="200" font-size="75">℃</text></g>
<g transform="matrix(1.0007,0,0,1.0215,0.37,-13.08)"><text x="322.6" y="581" font-family="'Liberation Sans', Arial, sans-serif" font-weight="bold" font-size="82">H<tspan font-size="56" dy="22">2</tspan><tspan dy="-22">O</tspan></text></g>
<g transform="matrix(0.9966,0,0,1.0443,3.20,-28.00)"><text x="795.5" y="609.5" font-family="'Liberation Sans', Arial, sans-serif" font-weight="bold" font-size="82">CO<tspan font-size="56" dy="22">2</tspan></text></g>
<g transform="matrix(1.0069,0,0,1.0557,-7.38,-33.04)"><text x="1165.7" y="573" font-family="'Liberation Sans', Arial, sans-serif" font-weight="bold" font-size="82">N<tspan font-size="56" dy="22">2</tspan><tspan dy="-22">O</tspan></text></g>
<g transform="matrix(0.9861,0,0,1.0603,19.88,-36.27)"><text x="1352" y="600.3" font-family="'Liberation Sans', Arial, sans-serif" font-weight="bold" font-size="82">NO</text></g>
<g transform="matrix(0.9993,0,0,1.0392,2.06,-25.21)"><text x="1545" y="600.3" font-family="'Liberation Sans', Arial, sans-serif" font-weight="bold" font-size="82">N<tspan font-size="56" dy="22">2</tspan><tspan dy="-22">O</tspan></text></g>
<g transform="matrix(0.9946,0,0,1.0165,10.39,-10.45)"><text x="1783.8" y="589.2" font-family="'Liberation Sans', Arial, sans-serif" font-weight="bold" font-size="82">CO<tspan font-size="56" dy="22">2</tspan></text></g>
<g transform="matrix(1.0121,0,0,0.9992,-1.81,0.58)"><text transform="translate(148.8,1278) rotate(-90)" font-family="'Liberation Sans', Arial, sans-serif" font-weight="bold" font-size="124">Absorbance (a.u.)</text></g>
<g transform="matrix(0.9996,0,0,1.0059,1.36,-10.47)"><text x="586" y="1804.5" font-family="'Liberation Sans', Arial, sans-serif" font-weight="bold" font-size="124">Wavenumber (cm<tspan font-size="82" dy="-54">-1</tspan><tspan dy="54">)</tspan></text></g>
</svg>
</body></html>
